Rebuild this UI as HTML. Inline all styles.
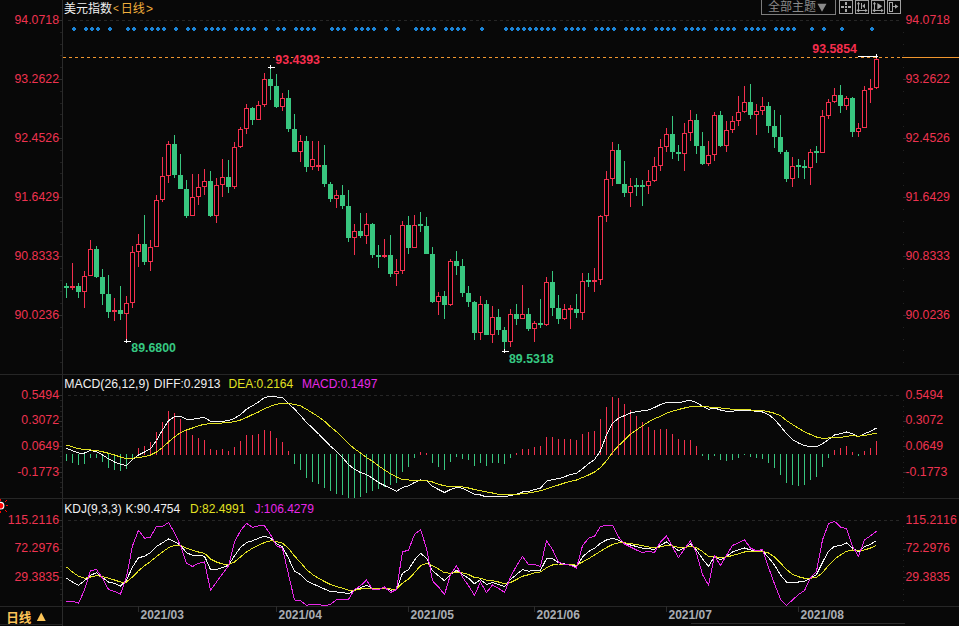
<!DOCTYPE html>
<html lang="zh"><head><meta charset="utf-8"><title>美元指数 日线</title>
<style>html,body{margin:0;padding:0;background:#080808;overflow:hidden}svg{display:block}text{font-family:'Liberation Sans','Noto Sans CJK SC',sans-serif;font-size:12px;font-kerning:none}</style>
</head><body>
<svg width="959" height="626" viewBox="0 0 959 626">
<rect width="959" height="626" fill="#080808"/>
<g shape-rendering="crispEdges">
<rect x="62" y="0" width="1" height="626" fill="#2b2b2b"/>
<rect x="0" y="374" width="959" height="1" fill="#262626"/>
<rect x="0" y="498" width="959" height="1" fill="#262626"/>
<rect x="0" y="606" width="959" height="1" fill="#262626"/>
<rect x="0" y="624" width="62" height="1" fill="#222222"/>
<rect x="691" y="623" width="214" height="1" fill="#2c2c2c"/>
<rect x="68" y="20" width="3" height="1" fill="#262626"/>
<rect x="74" y="20" width="3" height="1" fill="#262626"/>
<rect x="80" y="20" width="3" height="1" fill="#262626"/>
<rect x="86" y="20" width="3" height="1" fill="#262626"/>
<rect x="92" y="20" width="3" height="1" fill="#262626"/>
<rect x="98" y="20" width="3" height="1" fill="#262626"/>
<rect x="104" y="20" width="3" height="1" fill="#262626"/>
<rect x="110" y="20" width="3" height="1" fill="#262626"/>
<rect x="116" y="20" width="3" height="1" fill="#262626"/>
<rect x="122" y="20" width="3" height="1" fill="#262626"/>
<rect x="128" y="20" width="3" height="1" fill="#262626"/>
<rect x="134" y="20" width="3" height="1" fill="#262626"/>
<rect x="140" y="20" width="3" height="1" fill="#262626"/>
<rect x="146" y="20" width="3" height="1" fill="#262626"/>
<rect x="152" y="20" width="3" height="1" fill="#262626"/>
<rect x="158" y="20" width="3" height="1" fill="#262626"/>
<rect x="164" y="20" width="3" height="1" fill="#262626"/>
<rect x="170" y="20" width="3" height="1" fill="#262626"/>
<rect x="176" y="20" width="3" height="1" fill="#262626"/>
<rect x="182" y="20" width="3" height="1" fill="#262626"/>
<rect x="188" y="20" width="3" height="1" fill="#262626"/>
<rect x="194" y="20" width="3" height="1" fill="#262626"/>
<rect x="200" y="20" width="3" height="1" fill="#262626"/>
<rect x="206" y="20" width="3" height="1" fill="#262626"/>
<rect x="212" y="20" width="3" height="1" fill="#262626"/>
<rect x="218" y="20" width="3" height="1" fill="#262626"/>
<rect x="224" y="20" width="3" height="1" fill="#262626"/>
<rect x="230" y="20" width="3" height="1" fill="#262626"/>
<rect x="236" y="20" width="3" height="1" fill="#262626"/>
<rect x="242" y="20" width="3" height="1" fill="#262626"/>
<rect x="248" y="20" width="3" height="1" fill="#262626"/>
<rect x="254" y="20" width="3" height="1" fill="#262626"/>
<rect x="260" y="20" width="3" height="1" fill="#262626"/>
<rect x="266" y="20" width="3" height="1" fill="#262626"/>
<rect x="272" y="20" width="3" height="1" fill="#262626"/>
<rect x="278" y="20" width="3" height="1" fill="#262626"/>
<rect x="284" y="20" width="3" height="1" fill="#262626"/>
<rect x="290" y="20" width="3" height="1" fill="#262626"/>
<rect x="296" y="20" width="3" height="1" fill="#262626"/>
<rect x="302" y="20" width="3" height="1" fill="#262626"/>
<rect x="308" y="20" width="3" height="1" fill="#262626"/>
<rect x="314" y="20" width="3" height="1" fill="#262626"/>
<rect x="320" y="20" width="3" height="1" fill="#262626"/>
<rect x="326" y="20" width="3" height="1" fill="#262626"/>
<rect x="332" y="20" width="3" height="1" fill="#262626"/>
<rect x="338" y="20" width="3" height="1" fill="#262626"/>
<rect x="344" y="20" width="3" height="1" fill="#262626"/>
<rect x="350" y="20" width="3" height="1" fill="#262626"/>
<rect x="356" y="20" width="3" height="1" fill="#262626"/>
<rect x="362" y="20" width="3" height="1" fill="#262626"/>
<rect x="368" y="20" width="3" height="1" fill="#262626"/>
<rect x="374" y="20" width="3" height="1" fill="#262626"/>
<rect x="380" y="20" width="3" height="1" fill="#262626"/>
<rect x="386" y="20" width="3" height="1" fill="#262626"/>
<rect x="392" y="20" width="3" height="1" fill="#262626"/>
<rect x="398" y="20" width="3" height="1" fill="#262626"/>
<rect x="404" y="20" width="3" height="1" fill="#262626"/>
<rect x="410" y="20" width="3" height="1" fill="#262626"/>
<rect x="416" y="20" width="3" height="1" fill="#262626"/>
<rect x="422" y="20" width="3" height="1" fill="#262626"/>
<rect x="428" y="20" width="3" height="1" fill="#262626"/>
<rect x="434" y="20" width="3" height="1" fill="#262626"/>
<rect x="440" y="20" width="3" height="1" fill="#262626"/>
<rect x="446" y="20" width="3" height="1" fill="#262626"/>
<rect x="452" y="20" width="3" height="1" fill="#262626"/>
<rect x="458" y="20" width="3" height="1" fill="#262626"/>
<rect x="464" y="20" width="3" height="1" fill="#262626"/>
<rect x="470" y="20" width="3" height="1" fill="#262626"/>
<rect x="476" y="20" width="3" height="1" fill="#262626"/>
<rect x="482" y="20" width="3" height="1" fill="#262626"/>
<rect x="488" y="20" width="3" height="1" fill="#262626"/>
<rect x="494" y="20" width="3" height="1" fill="#262626"/>
<rect x="500" y="20" width="3" height="1" fill="#262626"/>
<rect x="506" y="20" width="3" height="1" fill="#262626"/>
<rect x="512" y="20" width="3" height="1" fill="#262626"/>
<rect x="518" y="20" width="3" height="1" fill="#262626"/>
<rect x="524" y="20" width="3" height="1" fill="#262626"/>
<rect x="530" y="20" width="3" height="1" fill="#262626"/>
<rect x="536" y="20" width="3" height="1" fill="#262626"/>
<rect x="542" y="20" width="3" height="1" fill="#262626"/>
<rect x="548" y="20" width="3" height="1" fill="#262626"/>
<rect x="554" y="20" width="3" height="1" fill="#262626"/>
<rect x="560" y="20" width="3" height="1" fill="#262626"/>
<rect x="566" y="20" width="3" height="1" fill="#262626"/>
<rect x="572" y="20" width="3" height="1" fill="#262626"/>
<rect x="578" y="20" width="3" height="1" fill="#262626"/>
<rect x="584" y="20" width="3" height="1" fill="#262626"/>
<rect x="590" y="20" width="3" height="1" fill="#262626"/>
<rect x="596" y="20" width="3" height="1" fill="#262626"/>
<rect x="602" y="20" width="3" height="1" fill="#262626"/>
<rect x="608" y="20" width="3" height="1" fill="#262626"/>
<rect x="614" y="20" width="3" height="1" fill="#262626"/>
<rect x="620" y="20" width="3" height="1" fill="#262626"/>
<rect x="626" y="20" width="3" height="1" fill="#262626"/>
<rect x="632" y="20" width="3" height="1" fill="#262626"/>
<rect x="638" y="20" width="3" height="1" fill="#262626"/>
<rect x="644" y="20" width="3" height="1" fill="#262626"/>
<rect x="650" y="20" width="3" height="1" fill="#262626"/>
<rect x="656" y="20" width="3" height="1" fill="#262626"/>
<rect x="662" y="20" width="3" height="1" fill="#262626"/>
<rect x="668" y="20" width="3" height="1" fill="#262626"/>
<rect x="674" y="20" width="3" height="1" fill="#262626"/>
<rect x="680" y="20" width="3" height="1" fill="#262626"/>
<rect x="686" y="20" width="3" height="1" fill="#262626"/>
<rect x="692" y="20" width="3" height="1" fill="#262626"/>
<rect x="698" y="20" width="3" height="1" fill="#262626"/>
<rect x="704" y="20" width="3" height="1" fill="#262626"/>
<rect x="710" y="20" width="3" height="1" fill="#262626"/>
<rect x="716" y="20" width="3" height="1" fill="#262626"/>
<rect x="722" y="20" width="3" height="1" fill="#262626"/>
<rect x="728" y="20" width="3" height="1" fill="#262626"/>
<rect x="734" y="20" width="3" height="1" fill="#262626"/>
<rect x="740" y="20" width="3" height="1" fill="#262626"/>
<rect x="746" y="20" width="3" height="1" fill="#262626"/>
<rect x="752" y="20" width="3" height="1" fill="#262626"/>
<rect x="758" y="20" width="3" height="1" fill="#262626"/>
<rect x="764" y="20" width="3" height="1" fill="#262626"/>
<rect x="770" y="20" width="3" height="1" fill="#262626"/>
<rect x="776" y="20" width="3" height="1" fill="#262626"/>
<rect x="782" y="20" width="3" height="1" fill="#262626"/>
<rect x="788" y="20" width="3" height="1" fill="#262626"/>
<rect x="794" y="20" width="3" height="1" fill="#262626"/>
<rect x="800" y="20" width="3" height="1" fill="#262626"/>
<rect x="806" y="20" width="3" height="1" fill="#262626"/>
<rect x="812" y="20" width="3" height="1" fill="#262626"/>
<rect x="818" y="20" width="3" height="1" fill="#262626"/>
<rect x="824" y="20" width="3" height="1" fill="#262626"/>
<rect x="830" y="20" width="3" height="1" fill="#262626"/>
<rect x="836" y="20" width="3" height="1" fill="#262626"/>
<rect x="842" y="20" width="3" height="1" fill="#262626"/>
<rect x="848" y="20" width="3" height="1" fill="#262626"/>
<rect x="854" y="20" width="3" height="1" fill="#262626"/>
<rect x="860" y="20" width="3" height="1" fill="#262626"/>
<rect x="866" y="20" width="3" height="1" fill="#262626"/>
<rect x="872" y="20" width="3" height="1" fill="#262626"/>
<rect x="878" y="20" width="3" height="1" fill="#262626"/>
<rect x="884" y="20" width="3" height="1" fill="#262626"/>
<rect x="890" y="20" width="3" height="1" fill="#262626"/>
<rect x="896" y="20" width="3" height="1" fill="#262626"/>
<rect x="68" y="395" width="3" height="1" fill="#262626"/>
<rect x="74" y="395" width="3" height="1" fill="#262626"/>
<rect x="80" y="395" width="3" height="1" fill="#262626"/>
<rect x="86" y="395" width="3" height="1" fill="#262626"/>
<rect x="92" y="395" width="3" height="1" fill="#262626"/>
<rect x="98" y="395" width="3" height="1" fill="#262626"/>
<rect x="104" y="395" width="3" height="1" fill="#262626"/>
<rect x="110" y="395" width="3" height="1" fill="#262626"/>
<rect x="116" y="395" width="3" height="1" fill="#262626"/>
<rect x="122" y="395" width="3" height="1" fill="#262626"/>
<rect x="128" y="395" width="3" height="1" fill="#262626"/>
<rect x="134" y="395" width="3" height="1" fill="#262626"/>
<rect x="140" y="395" width="3" height="1" fill="#262626"/>
<rect x="146" y="395" width="3" height="1" fill="#262626"/>
<rect x="152" y="395" width="3" height="1" fill="#262626"/>
<rect x="158" y="395" width="3" height="1" fill="#262626"/>
<rect x="164" y="395" width="3" height="1" fill="#262626"/>
<rect x="170" y="395" width="3" height="1" fill="#262626"/>
<rect x="176" y="395" width="3" height="1" fill="#262626"/>
<rect x="182" y="395" width="3" height="1" fill="#262626"/>
<rect x="188" y="395" width="3" height="1" fill="#262626"/>
<rect x="194" y="395" width="3" height="1" fill="#262626"/>
<rect x="200" y="395" width="3" height="1" fill="#262626"/>
<rect x="206" y="395" width="3" height="1" fill="#262626"/>
<rect x="212" y="395" width="3" height="1" fill="#262626"/>
<rect x="218" y="395" width="3" height="1" fill="#262626"/>
<rect x="224" y="395" width="3" height="1" fill="#262626"/>
<rect x="230" y="395" width="3" height="1" fill="#262626"/>
<rect x="236" y="395" width="3" height="1" fill="#262626"/>
<rect x="242" y="395" width="3" height="1" fill="#262626"/>
<rect x="248" y="395" width="3" height="1" fill="#262626"/>
<rect x="254" y="395" width="3" height="1" fill="#262626"/>
<rect x="260" y="395" width="3" height="1" fill="#262626"/>
<rect x="266" y="395" width="3" height="1" fill="#262626"/>
<rect x="272" y="395" width="3" height="1" fill="#262626"/>
<rect x="278" y="395" width="3" height="1" fill="#262626"/>
<rect x="284" y="395" width="3" height="1" fill="#262626"/>
<rect x="290" y="395" width="3" height="1" fill="#262626"/>
<rect x="296" y="395" width="3" height="1" fill="#262626"/>
<rect x="302" y="395" width="3" height="1" fill="#262626"/>
<rect x="308" y="395" width="3" height="1" fill="#262626"/>
<rect x="314" y="395" width="3" height="1" fill="#262626"/>
<rect x="320" y="395" width="3" height="1" fill="#262626"/>
<rect x="326" y="395" width="3" height="1" fill="#262626"/>
<rect x="332" y="395" width="3" height="1" fill="#262626"/>
<rect x="338" y="395" width="3" height="1" fill="#262626"/>
<rect x="344" y="395" width="3" height="1" fill="#262626"/>
<rect x="350" y="395" width="3" height="1" fill="#262626"/>
<rect x="356" y="395" width="3" height="1" fill="#262626"/>
<rect x="362" y="395" width="3" height="1" fill="#262626"/>
<rect x="368" y="395" width="3" height="1" fill="#262626"/>
<rect x="374" y="395" width="3" height="1" fill="#262626"/>
<rect x="380" y="395" width="3" height="1" fill="#262626"/>
<rect x="386" y="395" width="3" height="1" fill="#262626"/>
<rect x="392" y="395" width="3" height="1" fill="#262626"/>
<rect x="398" y="395" width="3" height="1" fill="#262626"/>
<rect x="404" y="395" width="3" height="1" fill="#262626"/>
<rect x="410" y="395" width="3" height="1" fill="#262626"/>
<rect x="416" y="395" width="3" height="1" fill="#262626"/>
<rect x="422" y="395" width="3" height="1" fill="#262626"/>
<rect x="428" y="395" width="3" height="1" fill="#262626"/>
<rect x="434" y="395" width="3" height="1" fill="#262626"/>
<rect x="440" y="395" width="3" height="1" fill="#262626"/>
<rect x="446" y="395" width="3" height="1" fill="#262626"/>
<rect x="452" y="395" width="3" height="1" fill="#262626"/>
<rect x="458" y="395" width="3" height="1" fill="#262626"/>
<rect x="464" y="395" width="3" height="1" fill="#262626"/>
<rect x="470" y="395" width="3" height="1" fill="#262626"/>
<rect x="476" y="395" width="3" height="1" fill="#262626"/>
<rect x="482" y="395" width="3" height="1" fill="#262626"/>
<rect x="488" y="395" width="3" height="1" fill="#262626"/>
<rect x="494" y="395" width="3" height="1" fill="#262626"/>
<rect x="500" y="395" width="3" height="1" fill="#262626"/>
<rect x="506" y="395" width="3" height="1" fill="#262626"/>
<rect x="512" y="395" width="3" height="1" fill="#262626"/>
<rect x="518" y="395" width="3" height="1" fill="#262626"/>
<rect x="524" y="395" width="3" height="1" fill="#262626"/>
<rect x="530" y="395" width="3" height="1" fill="#262626"/>
<rect x="536" y="395" width="3" height="1" fill="#262626"/>
<rect x="542" y="395" width="3" height="1" fill="#262626"/>
<rect x="548" y="395" width="3" height="1" fill="#262626"/>
<rect x="554" y="395" width="3" height="1" fill="#262626"/>
<rect x="560" y="395" width="3" height="1" fill="#262626"/>
<rect x="566" y="395" width="3" height="1" fill="#262626"/>
<rect x="572" y="395" width="3" height="1" fill="#262626"/>
<rect x="578" y="395" width="3" height="1" fill="#262626"/>
<rect x="584" y="395" width="3" height="1" fill="#262626"/>
<rect x="590" y="395" width="3" height="1" fill="#262626"/>
<rect x="596" y="395" width="3" height="1" fill="#262626"/>
<rect x="602" y="395" width="3" height="1" fill="#262626"/>
<rect x="608" y="395" width="3" height="1" fill="#262626"/>
<rect x="614" y="395" width="3" height="1" fill="#262626"/>
<rect x="620" y="395" width="3" height="1" fill="#262626"/>
<rect x="626" y="395" width="3" height="1" fill="#262626"/>
<rect x="632" y="395" width="3" height="1" fill="#262626"/>
<rect x="638" y="395" width="3" height="1" fill="#262626"/>
<rect x="644" y="395" width="3" height="1" fill="#262626"/>
<rect x="650" y="395" width="3" height="1" fill="#262626"/>
<rect x="656" y="395" width="3" height="1" fill="#262626"/>
<rect x="662" y="395" width="3" height="1" fill="#262626"/>
<rect x="668" y="395" width="3" height="1" fill="#262626"/>
<rect x="674" y="395" width="3" height="1" fill="#262626"/>
<rect x="680" y="395" width="3" height="1" fill="#262626"/>
<rect x="686" y="395" width="3" height="1" fill="#262626"/>
<rect x="692" y="395" width="3" height="1" fill="#262626"/>
<rect x="698" y="395" width="3" height="1" fill="#262626"/>
<rect x="704" y="395" width="3" height="1" fill="#262626"/>
<rect x="710" y="395" width="3" height="1" fill="#262626"/>
<rect x="716" y="395" width="3" height="1" fill="#262626"/>
<rect x="722" y="395" width="3" height="1" fill="#262626"/>
<rect x="728" y="395" width="3" height="1" fill="#262626"/>
<rect x="734" y="395" width="3" height="1" fill="#262626"/>
<rect x="740" y="395" width="3" height="1" fill="#262626"/>
<rect x="746" y="395" width="3" height="1" fill="#262626"/>
<rect x="752" y="395" width="3" height="1" fill="#262626"/>
<rect x="758" y="395" width="3" height="1" fill="#262626"/>
<rect x="764" y="395" width="3" height="1" fill="#262626"/>
<rect x="770" y="395" width="3" height="1" fill="#262626"/>
<rect x="776" y="395" width="3" height="1" fill="#262626"/>
<rect x="782" y="395" width="3" height="1" fill="#262626"/>
<rect x="788" y="395" width="3" height="1" fill="#262626"/>
<rect x="794" y="395" width="3" height="1" fill="#262626"/>
<rect x="800" y="395" width="3" height="1" fill="#262626"/>
<rect x="806" y="395" width="3" height="1" fill="#262626"/>
<rect x="812" y="395" width="3" height="1" fill="#262626"/>
<rect x="818" y="395" width="3" height="1" fill="#262626"/>
<rect x="824" y="395" width="3" height="1" fill="#262626"/>
<rect x="830" y="395" width="3" height="1" fill="#262626"/>
<rect x="836" y="395" width="3" height="1" fill="#262626"/>
<rect x="842" y="395" width="3" height="1" fill="#262626"/>
<rect x="848" y="395" width="3" height="1" fill="#262626"/>
<rect x="854" y="395" width="3" height="1" fill="#262626"/>
<rect x="860" y="395" width="3" height="1" fill="#262626"/>
<rect x="866" y="395" width="3" height="1" fill="#262626"/>
<rect x="872" y="395" width="3" height="1" fill="#262626"/>
<rect x="878" y="395" width="3" height="1" fill="#262626"/>
<rect x="884" y="395" width="3" height="1" fill="#262626"/>
<rect x="890" y="395" width="3" height="1" fill="#262626"/>
<rect x="896" y="395" width="3" height="1" fill="#262626"/>
<rect x="68" y="520" width="3" height="1" fill="#262626"/>
<rect x="74" y="520" width="3" height="1" fill="#262626"/>
<rect x="80" y="520" width="3" height="1" fill="#262626"/>
<rect x="86" y="520" width="3" height="1" fill="#262626"/>
<rect x="92" y="520" width="3" height="1" fill="#262626"/>
<rect x="98" y="520" width="3" height="1" fill="#262626"/>
<rect x="104" y="520" width="3" height="1" fill="#262626"/>
<rect x="110" y="520" width="3" height="1" fill="#262626"/>
<rect x="116" y="520" width="3" height="1" fill="#262626"/>
<rect x="122" y="520" width="3" height="1" fill="#262626"/>
<rect x="128" y="520" width="3" height="1" fill="#262626"/>
<rect x="134" y="520" width="3" height="1" fill="#262626"/>
<rect x="140" y="520" width="3" height="1" fill="#262626"/>
<rect x="146" y="520" width="3" height="1" fill="#262626"/>
<rect x="152" y="520" width="3" height="1" fill="#262626"/>
<rect x="158" y="520" width="3" height="1" fill="#262626"/>
<rect x="164" y="520" width="3" height="1" fill="#262626"/>
<rect x="170" y="520" width="3" height="1" fill="#262626"/>
<rect x="176" y="520" width="3" height="1" fill="#262626"/>
<rect x="182" y="520" width="3" height="1" fill="#262626"/>
<rect x="188" y="520" width="3" height="1" fill="#262626"/>
<rect x="194" y="520" width="3" height="1" fill="#262626"/>
<rect x="200" y="520" width="3" height="1" fill="#262626"/>
<rect x="206" y="520" width="3" height="1" fill="#262626"/>
<rect x="212" y="520" width="3" height="1" fill="#262626"/>
<rect x="218" y="520" width="3" height="1" fill="#262626"/>
<rect x="224" y="520" width="3" height="1" fill="#262626"/>
<rect x="230" y="520" width="3" height="1" fill="#262626"/>
<rect x="236" y="520" width="3" height="1" fill="#262626"/>
<rect x="242" y="520" width="3" height="1" fill="#262626"/>
<rect x="248" y="520" width="3" height="1" fill="#262626"/>
<rect x="254" y="520" width="3" height="1" fill="#262626"/>
<rect x="260" y="520" width="3" height="1" fill="#262626"/>
<rect x="266" y="520" width="3" height="1" fill="#262626"/>
<rect x="272" y="520" width="3" height="1" fill="#262626"/>
<rect x="278" y="520" width="3" height="1" fill="#262626"/>
<rect x="284" y="520" width="3" height="1" fill="#262626"/>
<rect x="290" y="520" width="3" height="1" fill="#262626"/>
<rect x="296" y="520" width="3" height="1" fill="#262626"/>
<rect x="302" y="520" width="3" height="1" fill="#262626"/>
<rect x="308" y="520" width="3" height="1" fill="#262626"/>
<rect x="314" y="520" width="3" height="1" fill="#262626"/>
<rect x="320" y="520" width="3" height="1" fill="#262626"/>
<rect x="326" y="520" width="3" height="1" fill="#262626"/>
<rect x="332" y="520" width="3" height="1" fill="#262626"/>
<rect x="338" y="520" width="3" height="1" fill="#262626"/>
<rect x="344" y="520" width="3" height="1" fill="#262626"/>
<rect x="350" y="520" width="3" height="1" fill="#262626"/>
<rect x="356" y="520" width="3" height="1" fill="#262626"/>
<rect x="362" y="520" width="3" height="1" fill="#262626"/>
<rect x="368" y="520" width="3" height="1" fill="#262626"/>
<rect x="374" y="520" width="3" height="1" fill="#262626"/>
<rect x="380" y="520" width="3" height="1" fill="#262626"/>
<rect x="386" y="520" width="3" height="1" fill="#262626"/>
<rect x="392" y="520" width="3" height="1" fill="#262626"/>
<rect x="398" y="520" width="3" height="1" fill="#262626"/>
<rect x="404" y="520" width="3" height="1" fill="#262626"/>
<rect x="410" y="520" width="3" height="1" fill="#262626"/>
<rect x="416" y="520" width="3" height="1" fill="#262626"/>
<rect x="422" y="520" width="3" height="1" fill="#262626"/>
<rect x="428" y="520" width="3" height="1" fill="#262626"/>
<rect x="434" y="520" width="3" height="1" fill="#262626"/>
<rect x="440" y="520" width="3" height="1" fill="#262626"/>
<rect x="446" y="520" width="3" height="1" fill="#262626"/>
<rect x="452" y="520" width="3" height="1" fill="#262626"/>
<rect x="458" y="520" width="3" height="1" fill="#262626"/>
<rect x="464" y="520" width="3" height="1" fill="#262626"/>
<rect x="470" y="520" width="3" height="1" fill="#262626"/>
<rect x="476" y="520" width="3" height="1" fill="#262626"/>
<rect x="482" y="520" width="3" height="1" fill="#262626"/>
<rect x="488" y="520" width="3" height="1" fill="#262626"/>
<rect x="494" y="520" width="3" height="1" fill="#262626"/>
<rect x="500" y="520" width="3" height="1" fill="#262626"/>
<rect x="506" y="520" width="3" height="1" fill="#262626"/>
<rect x="512" y="520" width="3" height="1" fill="#262626"/>
<rect x="518" y="520" width="3" height="1" fill="#262626"/>
<rect x="524" y="520" width="3" height="1" fill="#262626"/>
<rect x="530" y="520" width="3" height="1" fill="#262626"/>
<rect x="536" y="520" width="3" height="1" fill="#262626"/>
<rect x="542" y="520" width="3" height="1" fill="#262626"/>
<rect x="548" y="520" width="3" height="1" fill="#262626"/>
<rect x="554" y="520" width="3" height="1" fill="#262626"/>
<rect x="560" y="520" width="3" height="1" fill="#262626"/>
<rect x="566" y="520" width="3" height="1" fill="#262626"/>
<rect x="572" y="520" width="3" height="1" fill="#262626"/>
<rect x="578" y="520" width="3" height="1" fill="#262626"/>
<rect x="584" y="520" width="3" height="1" fill="#262626"/>
<rect x="590" y="520" width="3" height="1" fill="#262626"/>
<rect x="596" y="520" width="3" height="1" fill="#262626"/>
<rect x="602" y="520" width="3" height="1" fill="#262626"/>
<rect x="608" y="520" width="3" height="1" fill="#262626"/>
<rect x="614" y="520" width="3" height="1" fill="#262626"/>
<rect x="620" y="520" width="3" height="1" fill="#262626"/>
<rect x="626" y="520" width="3" height="1" fill="#262626"/>
<rect x="632" y="520" width="3" height="1" fill="#262626"/>
<rect x="638" y="520" width="3" height="1" fill="#262626"/>
<rect x="644" y="520" width="3" height="1" fill="#262626"/>
<rect x="650" y="520" width="3" height="1" fill="#262626"/>
<rect x="656" y="520" width="3" height="1" fill="#262626"/>
<rect x="662" y="520" width="3" height="1" fill="#262626"/>
<rect x="668" y="520" width="3" height="1" fill="#262626"/>
<rect x="674" y="520" width="3" height="1" fill="#262626"/>
<rect x="680" y="520" width="3" height="1" fill="#262626"/>
<rect x="686" y="520" width="3" height="1" fill="#262626"/>
<rect x="692" y="520" width="3" height="1" fill="#262626"/>
<rect x="698" y="520" width="3" height="1" fill="#262626"/>
<rect x="704" y="520" width="3" height="1" fill="#262626"/>
<rect x="710" y="520" width="3" height="1" fill="#262626"/>
<rect x="716" y="520" width="3" height="1" fill="#262626"/>
<rect x="722" y="520" width="3" height="1" fill="#262626"/>
<rect x="728" y="520" width="3" height="1" fill="#262626"/>
<rect x="734" y="520" width="3" height="1" fill="#262626"/>
<rect x="740" y="520" width="3" height="1" fill="#262626"/>
<rect x="746" y="520" width="3" height="1" fill="#262626"/>
<rect x="752" y="520" width="3" height="1" fill="#262626"/>
<rect x="758" y="520" width="3" height="1" fill="#262626"/>
<rect x="764" y="520" width="3" height="1" fill="#262626"/>
<rect x="770" y="520" width="3" height="1" fill="#262626"/>
<rect x="776" y="520" width="3" height="1" fill="#262626"/>
<rect x="782" y="520" width="3" height="1" fill="#262626"/>
<rect x="788" y="520" width="3" height="1" fill="#262626"/>
<rect x="794" y="520" width="3" height="1" fill="#262626"/>
<rect x="800" y="520" width="3" height="1" fill="#262626"/>
<rect x="806" y="520" width="3" height="1" fill="#262626"/>
<rect x="812" y="520" width="3" height="1" fill="#262626"/>
<rect x="818" y="520" width="3" height="1" fill="#262626"/>
<rect x="824" y="520" width="3" height="1" fill="#262626"/>
<rect x="830" y="520" width="3" height="1" fill="#262626"/>
<rect x="836" y="520" width="3" height="1" fill="#262626"/>
<rect x="842" y="520" width="3" height="1" fill="#262626"/>
<rect x="848" y="520" width="3" height="1" fill="#262626"/>
<rect x="854" y="520" width="3" height="1" fill="#262626"/>
<rect x="860" y="520" width="3" height="1" fill="#262626"/>
<rect x="866" y="520" width="3" height="1" fill="#262626"/>
<rect x="872" y="520" width="3" height="1" fill="#262626"/>
<rect x="878" y="520" width="3" height="1" fill="#262626"/>
<rect x="884" y="520" width="3" height="1" fill="#262626"/>
<rect x="890" y="520" width="3" height="1" fill="#262626"/>
<rect x="896" y="520" width="3" height="1" fill="#262626"/>
<rect x="58" y="20" width="4" height="1" fill="#2e2e2e"/>
<rect x="60" y="32" width="2" height="1" fill="#1f1f1f"/>
<rect x="903" y="32" width="1" height="1" fill="#222222"/>
<rect x="60" y="44" width="2" height="1" fill="#1f1f1f"/>
<rect x="903" y="44" width="1" height="1" fill="#222222"/>
<rect x="60" y="55" width="2" height="1" fill="#1f1f1f"/>
<rect x="903" y="55" width="1" height="1" fill="#222222"/>
<rect x="60" y="67" width="2" height="1" fill="#1f1f1f"/>
<rect x="903" y="67" width="1" height="1" fill="#222222"/>
<rect x="58" y="79" width="4" height="1" fill="#2e2e2e"/>
<rect x="903" y="79" width="3" height="1" fill="#2c2c2c"/>
<rect x="60" y="91" width="2" height="1" fill="#1f1f1f"/>
<rect x="903" y="91" width="1" height="1" fill="#222222"/>
<rect x="60" y="103" width="2" height="1" fill="#1f1f1f"/>
<rect x="903" y="103" width="1" height="1" fill="#222222"/>
<rect x="60" y="114" width="2" height="1" fill="#1f1f1f"/>
<rect x="903" y="114" width="1" height="1" fill="#222222"/>
<rect x="60" y="126" width="2" height="1" fill="#1f1f1f"/>
<rect x="903" y="126" width="1" height="1" fill="#222222"/>
<rect x="58" y="138" width="4" height="1" fill="#2e2e2e"/>
<rect x="903" y="138" width="3" height="1" fill="#2c2c2c"/>
<rect x="60" y="150" width="2" height="1" fill="#1f1f1f"/>
<rect x="903" y="150" width="1" height="1" fill="#222222"/>
<rect x="60" y="162" width="2" height="1" fill="#1f1f1f"/>
<rect x="903" y="162" width="1" height="1" fill="#222222"/>
<rect x="60" y="173" width="2" height="1" fill="#1f1f1f"/>
<rect x="903" y="173" width="1" height="1" fill="#222222"/>
<rect x="60" y="185" width="2" height="1" fill="#1f1f1f"/>
<rect x="903" y="185" width="1" height="1" fill="#222222"/>
<rect x="58" y="197" width="4" height="1" fill="#2e2e2e"/>
<rect x="903" y="197" width="3" height="1" fill="#2c2c2c"/>
<rect x="60" y="209" width="2" height="1" fill="#1f1f1f"/>
<rect x="903" y="209" width="1" height="1" fill="#222222"/>
<rect x="60" y="221" width="2" height="1" fill="#1f1f1f"/>
<rect x="903" y="221" width="1" height="1" fill="#222222"/>
<rect x="60" y="232" width="2" height="1" fill="#1f1f1f"/>
<rect x="903" y="232" width="1" height="1" fill="#222222"/>
<rect x="60" y="244" width="2" height="1" fill="#1f1f1f"/>
<rect x="903" y="244" width="1" height="1" fill="#222222"/>
<rect x="58" y="256" width="4" height="1" fill="#2e2e2e"/>
<rect x="903" y="256" width="3" height="1" fill="#2c2c2c"/>
<rect x="60" y="268" width="2" height="1" fill="#1f1f1f"/>
<rect x="903" y="268" width="1" height="1" fill="#222222"/>
<rect x="60" y="280" width="2" height="1" fill="#1f1f1f"/>
<rect x="903" y="280" width="1" height="1" fill="#222222"/>
<rect x="60" y="291" width="2" height="1" fill="#1f1f1f"/>
<rect x="903" y="291" width="1" height="1" fill="#222222"/>
<rect x="60" y="303" width="2" height="1" fill="#1f1f1f"/>
<rect x="903" y="303" width="1" height="1" fill="#222222"/>
<rect x="58" y="315" width="4" height="1" fill="#2e2e2e"/>
<rect x="903" y="315" width="3" height="1" fill="#2c2c2c"/>
<rect x="60" y="327" width="2" height="1" fill="#1f1f1f"/>
<rect x="903" y="327" width="1" height="1" fill="#222222"/>
<rect x="60" y="339" width="2" height="1" fill="#1f1f1f"/>
<rect x="903" y="339" width="1" height="1" fill="#222222"/>
<rect x="60" y="350" width="2" height="1" fill="#1f1f1f"/>
<rect x="903" y="350" width="1" height="1" fill="#222222"/>
<rect x="60" y="362" width="2" height="1" fill="#1f1f1f"/>
<rect x="903" y="362" width="1" height="1" fill="#222222"/>
<rect x="58" y="395" width="4" height="1" fill="#2e2e2e"/>
<rect x="60" y="400" width="2" height="1" fill="#1f1f1f"/>
<rect x="903" y="400" width="1" height="1" fill="#222222"/>
<rect x="60" y="406" width="2" height="1" fill="#1f1f1f"/>
<rect x="903" y="406" width="1" height="1" fill="#222222"/>
<rect x="60" y="411" width="2" height="1" fill="#1f1f1f"/>
<rect x="903" y="411" width="1" height="1" fill="#222222"/>
<rect x="60" y="416" width="2" height="1" fill="#1f1f1f"/>
<rect x="903" y="416" width="1" height="1" fill="#222222"/>
<rect x="58" y="421" width="4" height="1" fill="#2e2e2e"/>
<rect x="903" y="421" width="3" height="1" fill="#2c2c2c"/>
<rect x="60" y="426" width="2" height="1" fill="#1f1f1f"/>
<rect x="903" y="426" width="1" height="1" fill="#222222"/>
<rect x="60" y="431" width="2" height="1" fill="#1f1f1f"/>
<rect x="903" y="431" width="1" height="1" fill="#222222"/>
<rect x="60" y="436" width="2" height="1" fill="#1f1f1f"/>
<rect x="903" y="436" width="1" height="1" fill="#222222"/>
<rect x="60" y="441" width="2" height="1" fill="#1f1f1f"/>
<rect x="903" y="441" width="1" height="1" fill="#222222"/>
<rect x="58" y="446" width="4" height="1" fill="#2e2e2e"/>
<rect x="903" y="446" width="3" height="1" fill="#2c2c2c"/>
<rect x="60" y="451" width="2" height="1" fill="#1f1f1f"/>
<rect x="903" y="451" width="1" height="1" fill="#222222"/>
<rect x="60" y="456" width="2" height="1" fill="#1f1f1f"/>
<rect x="903" y="456" width="1" height="1" fill="#222222"/>
<rect x="60" y="462" width="2" height="1" fill="#1f1f1f"/>
<rect x="903" y="462" width="1" height="1" fill="#222222"/>
<rect x="60" y="467" width="2" height="1" fill="#1f1f1f"/>
<rect x="903" y="467" width="1" height="1" fill="#222222"/>
<rect x="58" y="472" width="4" height="1" fill="#2e2e2e"/>
<rect x="903" y="472" width="3" height="1" fill="#2c2c2c"/>
<rect x="60" y="477" width="2" height="1" fill="#1f1f1f"/>
<rect x="903" y="477" width="1" height="1" fill="#222222"/>
<rect x="60" y="482" width="2" height="1" fill="#1f1f1f"/>
<rect x="903" y="482" width="1" height="1" fill="#222222"/>
<rect x="60" y="487" width="2" height="1" fill="#1f1f1f"/>
<rect x="903" y="487" width="1" height="1" fill="#222222"/>
<rect x="60" y="492" width="2" height="1" fill="#1f1f1f"/>
<rect x="903" y="492" width="1" height="1" fill="#222222"/>
<rect x="58" y="520" width="4" height="1" fill="#2e2e2e"/>
<rect x="60" y="526" width="2" height="1" fill="#1f1f1f"/>
<rect x="903" y="526" width="1" height="1" fill="#222222"/>
<rect x="60" y="531" width="2" height="1" fill="#1f1f1f"/>
<rect x="903" y="531" width="1" height="1" fill="#222222"/>
<rect x="60" y="537" width="2" height="1" fill="#1f1f1f"/>
<rect x="903" y="537" width="1" height="1" fill="#222222"/>
<rect x="60" y="543" width="2" height="1" fill="#1f1f1f"/>
<rect x="903" y="543" width="1" height="1" fill="#222222"/>
<rect x="58" y="549" width="4" height="1" fill="#2e2e2e"/>
<rect x="903" y="549" width="3" height="1" fill="#2c2c2c"/>
<rect x="60" y="554" width="2" height="1" fill="#1f1f1f"/>
<rect x="903" y="554" width="1" height="1" fill="#222222"/>
<rect x="60" y="560" width="2" height="1" fill="#1f1f1f"/>
<rect x="903" y="560" width="1" height="1" fill="#222222"/>
<rect x="60" y="566" width="2" height="1" fill="#1f1f1f"/>
<rect x="903" y="566" width="1" height="1" fill="#222222"/>
<rect x="60" y="571" width="2" height="1" fill="#1f1f1f"/>
<rect x="903" y="571" width="1" height="1" fill="#222222"/>
<rect x="58" y="577" width="4" height="1" fill="#2e2e2e"/>
<rect x="903" y="577" width="3" height="1" fill="#2c2c2c"/>
<rect x="60" y="583" width="2" height="1" fill="#1f1f1f"/>
<rect x="903" y="583" width="1" height="1" fill="#222222"/>
<rect x="60" y="589" width="2" height="1" fill="#1f1f1f"/>
<rect x="903" y="589" width="1" height="1" fill="#222222"/>
<rect x="60" y="594" width="2" height="1" fill="#1f1f1f"/>
<rect x="903" y="594" width="1" height="1" fill="#222222"/>
<rect x="60" y="600" width="2" height="1" fill="#1f1f1f"/>
<rect x="903" y="600" width="1" height="1" fill="#222222"/>
<rect x="138" y="606" width="1" height="6" fill="#2c2c2c"/>
<rect x="276" y="606" width="1" height="6" fill="#2c2c2c"/>
<rect x="408" y="606" width="1" height="6" fill="#2c2c2c"/>
<rect x="534" y="606" width="1" height="6" fill="#2c2c2c"/>
<rect x="666" y="606" width="1" height="6" fill="#2c2c2c"/>
<rect x="798" y="606" width="1" height="6" fill="#2c2c2c"/>
<rect x="63" y="57" width="3" height="1" fill="#f0962e"/>
<rect x="69" y="57" width="3" height="1" fill="#f0962e"/>
<rect x="75" y="57" width="3" height="1" fill="#f0962e"/>
<rect x="81" y="57" width="3" height="1" fill="#f0962e"/>
<rect x="87" y="57" width="3" height="1" fill="#f0962e"/>
<rect x="93" y="57" width="3" height="1" fill="#f0962e"/>
<rect x="99" y="57" width="3" height="1" fill="#f0962e"/>
<rect x="105" y="57" width="3" height="1" fill="#f0962e"/>
<rect x="111" y="57" width="3" height="1" fill="#f0962e"/>
<rect x="117" y="57" width="3" height="1" fill="#f0962e"/>
<rect x="123" y="57" width="3" height="1" fill="#f0962e"/>
<rect x="129" y="57" width="3" height="1" fill="#f0962e"/>
<rect x="135" y="57" width="3" height="1" fill="#f0962e"/>
<rect x="141" y="57" width="3" height="1" fill="#f0962e"/>
<rect x="147" y="57" width="3" height="1" fill="#f0962e"/>
<rect x="153" y="57" width="3" height="1" fill="#f0962e"/>
<rect x="159" y="57" width="3" height="1" fill="#f0962e"/>
<rect x="165" y="57" width="3" height="1" fill="#f0962e"/>
<rect x="171" y="57" width="3" height="1" fill="#f0962e"/>
<rect x="177" y="57" width="3" height="1" fill="#f0962e"/>
<rect x="183" y="57" width="3" height="1" fill="#f0962e"/>
<rect x="189" y="57" width="3" height="1" fill="#f0962e"/>
<rect x="195" y="57" width="3" height="1" fill="#f0962e"/>
<rect x="201" y="57" width="3" height="1" fill="#f0962e"/>
<rect x="207" y="57" width="3" height="1" fill="#f0962e"/>
<rect x="213" y="57" width="3" height="1" fill="#f0962e"/>
<rect x="219" y="57" width="3" height="1" fill="#f0962e"/>
<rect x="225" y="57" width="3" height="1" fill="#f0962e"/>
<rect x="231" y="57" width="3" height="1" fill="#f0962e"/>
<rect x="237" y="57" width="3" height="1" fill="#f0962e"/>
<rect x="243" y="57" width="3" height="1" fill="#f0962e"/>
<rect x="249" y="57" width="3" height="1" fill="#f0962e"/>
<rect x="255" y="57" width="3" height="1" fill="#f0962e"/>
<rect x="261" y="57" width="3" height="1" fill="#f0962e"/>
<rect x="267" y="57" width="3" height="1" fill="#f0962e"/>
<rect x="273" y="57" width="3" height="1" fill="#f0962e"/>
<rect x="279" y="57" width="3" height="1" fill="#f0962e"/>
<rect x="285" y="57" width="3" height="1" fill="#f0962e"/>
<rect x="291" y="57" width="3" height="1" fill="#f0962e"/>
<rect x="297" y="57" width="3" height="1" fill="#f0962e"/>
<rect x="303" y="57" width="3" height="1" fill="#f0962e"/>
<rect x="309" y="57" width="3" height="1" fill="#f0962e"/>
<rect x="315" y="57" width="3" height="1" fill="#f0962e"/>
<rect x="321" y="57" width="3" height="1" fill="#f0962e"/>
<rect x="327" y="57" width="3" height="1" fill="#f0962e"/>
<rect x="333" y="57" width="3" height="1" fill="#f0962e"/>
<rect x="339" y="57" width="3" height="1" fill="#f0962e"/>
<rect x="345" y="57" width="3" height="1" fill="#f0962e"/>
<rect x="351" y="57" width="3" height="1" fill="#f0962e"/>
<rect x="357" y="57" width="3" height="1" fill="#f0962e"/>
<rect x="363" y="57" width="3" height="1" fill="#f0962e"/>
<rect x="369" y="57" width="3" height="1" fill="#f0962e"/>
<rect x="375" y="57" width="3" height="1" fill="#f0962e"/>
<rect x="381" y="57" width="3" height="1" fill="#f0962e"/>
<rect x="387" y="57" width="3" height="1" fill="#f0962e"/>
<rect x="393" y="57" width="3" height="1" fill="#f0962e"/>
<rect x="399" y="57" width="3" height="1" fill="#f0962e"/>
<rect x="405" y="57" width="3" height="1" fill="#f0962e"/>
<rect x="411" y="57" width="3" height="1" fill="#f0962e"/>
<rect x="417" y="57" width="3" height="1" fill="#f0962e"/>
<rect x="423" y="57" width="3" height="1" fill="#f0962e"/>
<rect x="429" y="57" width="3" height="1" fill="#f0962e"/>
<rect x="435" y="57" width="3" height="1" fill="#f0962e"/>
<rect x="441" y="57" width="3" height="1" fill="#f0962e"/>
<rect x="447" y="57" width="3" height="1" fill="#f0962e"/>
<rect x="453" y="57" width="3" height="1" fill="#f0962e"/>
<rect x="459" y="57" width="3" height="1" fill="#f0962e"/>
<rect x="465" y="57" width="3" height="1" fill="#f0962e"/>
<rect x="471" y="57" width="3" height="1" fill="#f0962e"/>
<rect x="477" y="57" width="3" height="1" fill="#f0962e"/>
<rect x="483" y="57" width="3" height="1" fill="#f0962e"/>
<rect x="489" y="57" width="3" height="1" fill="#f0962e"/>
<rect x="495" y="57" width="3" height="1" fill="#f0962e"/>
<rect x="501" y="57" width="3" height="1" fill="#f0962e"/>
<rect x="507" y="57" width="3" height="1" fill="#f0962e"/>
<rect x="513" y="57" width="3" height="1" fill="#f0962e"/>
<rect x="519" y="57" width="3" height="1" fill="#f0962e"/>
<rect x="525" y="57" width="3" height="1" fill="#f0962e"/>
<rect x="531" y="57" width="3" height="1" fill="#f0962e"/>
<rect x="537" y="57" width="3" height="1" fill="#f0962e"/>
<rect x="543" y="57" width="3" height="1" fill="#f0962e"/>
<rect x="549" y="57" width="3" height="1" fill="#f0962e"/>
<rect x="555" y="57" width="3" height="1" fill="#f0962e"/>
<rect x="561" y="57" width="3" height="1" fill="#f0962e"/>
<rect x="567" y="57" width="3" height="1" fill="#f0962e"/>
<rect x="573" y="57" width="3" height="1" fill="#f0962e"/>
<rect x="579" y="57" width="3" height="1" fill="#f0962e"/>
<rect x="585" y="57" width="3" height="1" fill="#f0962e"/>
<rect x="591" y="57" width="3" height="1" fill="#f0962e"/>
<rect x="597" y="57" width="3" height="1" fill="#f0962e"/>
<rect x="603" y="57" width="3" height="1" fill="#f0962e"/>
<rect x="609" y="57" width="3" height="1" fill="#f0962e"/>
<rect x="615" y="57" width="3" height="1" fill="#f0962e"/>
<rect x="621" y="57" width="3" height="1" fill="#f0962e"/>
<rect x="627" y="57" width="3" height="1" fill="#f0962e"/>
<rect x="633" y="57" width="3" height="1" fill="#f0962e"/>
<rect x="639" y="57" width="3" height="1" fill="#f0962e"/>
<rect x="645" y="57" width="3" height="1" fill="#f0962e"/>
<rect x="651" y="57" width="3" height="1" fill="#f0962e"/>
<rect x="657" y="57" width="3" height="1" fill="#f0962e"/>
<rect x="663" y="57" width="3" height="1" fill="#f0962e"/>
<rect x="669" y="57" width="3" height="1" fill="#f0962e"/>
<rect x="675" y="57" width="3" height="1" fill="#f0962e"/>
<rect x="681" y="57" width="3" height="1" fill="#f0962e"/>
<rect x="687" y="57" width="3" height="1" fill="#f0962e"/>
<rect x="693" y="57" width="3" height="1" fill="#f0962e"/>
<rect x="699" y="57" width="3" height="1" fill="#f0962e"/>
<rect x="705" y="57" width="3" height="1" fill="#f0962e"/>
<rect x="711" y="57" width="3" height="1" fill="#f0962e"/>
<rect x="717" y="57" width="3" height="1" fill="#f0962e"/>
<rect x="723" y="57" width="3" height="1" fill="#f0962e"/>
<rect x="729" y="57" width="3" height="1" fill="#f0962e"/>
<rect x="735" y="57" width="3" height="1" fill="#f0962e"/>
<rect x="741" y="57" width="3" height="1" fill="#f0962e"/>
<rect x="747" y="57" width="3" height="1" fill="#f0962e"/>
<rect x="753" y="57" width="3" height="1" fill="#f0962e"/>
<rect x="759" y="57" width="3" height="1" fill="#f0962e"/>
<rect x="765" y="57" width="3" height="1" fill="#f0962e"/>
<rect x="771" y="57" width="3" height="1" fill="#f0962e"/>
<rect x="777" y="57" width="3" height="1" fill="#f0962e"/>
<rect x="783" y="57" width="3" height="1" fill="#f0962e"/>
<rect x="789" y="57" width="3" height="1" fill="#f0962e"/>
<rect x="795" y="57" width="3" height="1" fill="#f0962e"/>
<rect x="801" y="57" width="3" height="1" fill="#f0962e"/>
<rect x="807" y="57" width="3" height="1" fill="#f0962e"/>
<rect x="813" y="57" width="3" height="1" fill="#f0962e"/>
<rect x="819" y="57" width="3" height="1" fill="#f0962e"/>
<rect x="825" y="57" width="3" height="1" fill="#f0962e"/>
<rect x="831" y="57" width="3" height="1" fill="#f0962e"/>
<rect x="837" y="57" width="3" height="1" fill="#f0962e"/>
<rect x="843" y="57" width="3" height="1" fill="#f0962e"/>
<rect x="849" y="57" width="3" height="1" fill="#f0962e"/>
<rect x="855" y="57" width="3" height="1" fill="#f0962e"/>
<rect x="861" y="57" width="3" height="1" fill="#f0962e"/>
<rect x="867" y="57" width="3" height="1" fill="#f0962e"/>
<rect x="873" y="57" width="3" height="1" fill="#f0962e"/>
<rect x="879" y="57" width="3" height="1" fill="#f0962e"/>
<rect x="885" y="57" width="3" height="1" fill="#f0962e"/>
<rect x="891" y="57" width="3" height="1" fill="#f0962e"/>
<rect x="897" y="57" width="3" height="1" fill="#f0962e"/>
<rect x="902" y="57" width="57" height="1" fill="#f0962e"/>
</g>
<g fill="#1c85d8" shape-rendering="crispEdges">
<rect x="73" y="27" width="2" height="4"/><rect x="72" y="28" width="4" height="2"/>
<rect x="85" y="27" width="2" height="4"/><rect x="84" y="28" width="4" height="2"/>
<rect x="91" y="27" width="2" height="4"/><rect x="90" y="28" width="4" height="2"/>
<rect x="97" y="27" width="2" height="4"/><rect x="96" y="28" width="4" height="2"/>
<rect x="109" y="27" width="2" height="4"/><rect x="108" y="28" width="4" height="2"/>
<rect x="127" y="27" width="2" height="4"/><rect x="126" y="28" width="4" height="2"/>
<rect x="133" y="27" width="2" height="4"/><rect x="132" y="28" width="4" height="2"/>
<rect x="145" y="27" width="2" height="4"/><rect x="144" y="28" width="4" height="2"/>
<rect x="151" y="27" width="2" height="4"/><rect x="150" y="28" width="4" height="2"/>
<rect x="157" y="27" width="2" height="4"/><rect x="156" y="28" width="4" height="2"/>
<rect x="163" y="27" width="2" height="4"/><rect x="162" y="28" width="4" height="2"/>
<rect x="175" y="27" width="2" height="4"/><rect x="174" y="28" width="4" height="2"/>
<rect x="187" y="27" width="2" height="4"/><rect x="186" y="28" width="4" height="2"/>
<rect x="193" y="27" width="2" height="4"/><rect x="192" y="28" width="4" height="2"/>
<rect x="205" y="27" width="2" height="4"/><rect x="204" y="28" width="4" height="2"/>
<rect x="211" y="27" width="2" height="4"/><rect x="210" y="28" width="4" height="2"/>
<rect x="217" y="27" width="2" height="4"/><rect x="216" y="28" width="4" height="2"/>
<rect x="223" y="27" width="2" height="4"/><rect x="222" y="28" width="4" height="2"/>
<rect x="235" y="27" width="2" height="4"/><rect x="234" y="28" width="4" height="2"/>
<rect x="241" y="27" width="2" height="4"/><rect x="240" y="28" width="4" height="2"/>
<rect x="247" y="27" width="2" height="4"/><rect x="246" y="28" width="4" height="2"/>
<rect x="253" y="27" width="2" height="4"/><rect x="252" y="28" width="4" height="2"/>
<rect x="265" y="27" width="2" height="4"/><rect x="264" y="28" width="4" height="2"/>
<rect x="277" y="27" width="2" height="4"/><rect x="276" y="28" width="4" height="2"/>
<rect x="283" y="27" width="2" height="4"/><rect x="282" y="28" width="4" height="2"/>
<rect x="295" y="27" width="2" height="4"/><rect x="294" y="28" width="4" height="2"/>
<rect x="301" y="27" width="2" height="4"/><rect x="300" y="28" width="4" height="2"/>
<rect x="307" y="27" width="2" height="4"/><rect x="306" y="28" width="4" height="2"/>
<rect x="313" y="27" width="2" height="4"/><rect x="312" y="28" width="4" height="2"/>
<rect x="331" y="27" width="2" height="4"/><rect x="330" y="28" width="4" height="2"/>
<rect x="337" y="27" width="2" height="4"/><rect x="336" y="28" width="4" height="2"/>
<rect x="343" y="27" width="2" height="4"/><rect x="342" y="28" width="4" height="2"/>
<rect x="355" y="27" width="2" height="4"/><rect x="354" y="28" width="4" height="2"/>
<rect x="361" y="27" width="2" height="4"/><rect x="360" y="28" width="4" height="2"/>
<rect x="367" y="27" width="2" height="4"/><rect x="366" y="28" width="4" height="2"/>
<rect x="373" y="27" width="2" height="4"/><rect x="372" y="28" width="4" height="2"/>
<rect x="385" y="27" width="2" height="4"/><rect x="384" y="28" width="4" height="2"/>
<rect x="397" y="27" width="2" height="4"/><rect x="396" y="28" width="4" height="2"/>
<rect x="415" y="27" width="2" height="4"/><rect x="414" y="28" width="4" height="2"/>
<rect x="421" y="27" width="2" height="4"/><rect x="420" y="28" width="4" height="2"/>
<rect x="427" y="27" width="2" height="4"/><rect x="426" y="28" width="4" height="2"/>
<rect x="433" y="27" width="2" height="4"/><rect x="432" y="28" width="4" height="2"/>
<rect x="445" y="27" width="2" height="4"/><rect x="444" y="28" width="4" height="2"/>
<rect x="451" y="27" width="2" height="4"/><rect x="450" y="28" width="4" height="2"/>
<rect x="457" y="27" width="2" height="4"/><rect x="456" y="28" width="4" height="2"/>
<rect x="463" y="27" width="2" height="4"/><rect x="462" y="28" width="4" height="2"/>
<rect x="481" y="27" width="2" height="4"/><rect x="480" y="28" width="4" height="2"/>
<rect x="505" y="27" width="2" height="4"/><rect x="504" y="28" width="4" height="2"/>
<rect x="511" y="27" width="2" height="4"/><rect x="510" y="28" width="4" height="2"/>
<rect x="517" y="27" width="2" height="4"/><rect x="516" y="28" width="4" height="2"/>
<rect x="523" y="27" width="2" height="4"/><rect x="522" y="28" width="4" height="2"/>
<rect x="529" y="27" width="2" height="4"/><rect x="528" y="28" width="4" height="2"/>
<rect x="535" y="27" width="2" height="4"/><rect x="534" y="28" width="4" height="2"/>
<rect x="541" y="27" width="2" height="4"/><rect x="540" y="28" width="4" height="2"/>
<rect x="547" y="27" width="2" height="4"/><rect x="546" y="28" width="4" height="2"/>
<rect x="553" y="27" width="2" height="4"/><rect x="552" y="28" width="4" height="2"/>
<rect x="565" y="27" width="2" height="4"/><rect x="564" y="28" width="4" height="2"/>
<rect x="571" y="27" width="2" height="4"/><rect x="570" y="28" width="4" height="2"/>
<rect x="577" y="27" width="2" height="4"/><rect x="576" y="28" width="4" height="2"/>
<rect x="583" y="27" width="2" height="4"/><rect x="582" y="28" width="4" height="2"/>
<rect x="595" y="27" width="2" height="4"/><rect x="594" y="28" width="4" height="2"/>
<rect x="601" y="27" width="2" height="4"/><rect x="600" y="28" width="4" height="2"/>
<rect x="607" y="27" width="2" height="4"/><rect x="606" y="28" width="4" height="2"/>
<rect x="613" y="27" width="2" height="4"/><rect x="612" y="28" width="4" height="2"/>
<rect x="625" y="27" width="2" height="4"/><rect x="624" y="28" width="4" height="2"/>
<rect x="631" y="27" width="2" height="4"/><rect x="630" y="28" width="4" height="2"/>
<rect x="637" y="27" width="2" height="4"/><rect x="636" y="28" width="4" height="2"/>
<rect x="643" y="27" width="2" height="4"/><rect x="642" y="28" width="4" height="2"/>
<rect x="655" y="27" width="2" height="4"/><rect x="654" y="28" width="4" height="2"/>
<rect x="661" y="27" width="2" height="4"/><rect x="660" y="28" width="4" height="2"/>
<rect x="667" y="27" width="2" height="4"/><rect x="666" y="28" width="4" height="2"/>
<rect x="673" y="27" width="2" height="4"/><rect x="672" y="28" width="4" height="2"/>
<rect x="685" y="27" width="2" height="4"/><rect x="684" y="28" width="4" height="2"/>
<rect x="691" y="27" width="2" height="4"/><rect x="690" y="28" width="4" height="2"/>
<rect x="697" y="27" width="2" height="4"/><rect x="696" y="28" width="4" height="2"/>
<rect x="703" y="27" width="2" height="4"/><rect x="702" y="28" width="4" height="2"/>
<rect x="715" y="27" width="2" height="4"/><rect x="714" y="28" width="4" height="2"/>
<rect x="721" y="27" width="2" height="4"/><rect x="720" y="28" width="4" height="2"/>
<rect x="727" y="27" width="2" height="4"/><rect x="726" y="28" width="4" height="2"/>
<rect x="733" y="27" width="2" height="4"/><rect x="732" y="28" width="4" height="2"/>
<rect x="745" y="27" width="2" height="4"/><rect x="744" y="28" width="4" height="2"/>
<rect x="751" y="27" width="2" height="4"/><rect x="750" y="28" width="4" height="2"/>
<rect x="757" y="27" width="2" height="4"/><rect x="756" y="28" width="4" height="2"/>
<rect x="763" y="27" width="2" height="4"/><rect x="762" y="28" width="4" height="2"/>
<rect x="775" y="27" width="2" height="4"/><rect x="774" y="28" width="4" height="2"/>
<rect x="781" y="27" width="2" height="4"/><rect x="780" y="28" width="4" height="2"/>
<rect x="787" y="27" width="2" height="4"/><rect x="786" y="28" width="4" height="2"/>
<rect x="793" y="27" width="2" height="4"/><rect x="792" y="28" width="4" height="2"/>
<rect x="811" y="27" width="2" height="4"/><rect x="810" y="28" width="4" height="2"/>
<rect x="823" y="27" width="2" height="4"/><rect x="822" y="28" width="4" height="2"/>
<rect x="841" y="27" width="2" height="4"/><rect x="840" y="28" width="4" height="2"/>
<rect x="871" y="27" width="2" height="4"/><rect x="870" y="28" width="4" height="2"/>
</g>
<g shape-rendering="crispEdges">
<rect x="66" y="283" width="1" height="15" fill="#38c67f"/>
<rect x="64" y="286" width="5" height="2" fill="#38c67f"/>
<rect x="72" y="263" width="1" height="27" fill="#f2304e"/>
<rect x="70" y="286" width="5" height="2" fill="#f2304e"/>
<rect x="78" y="283" width="1" height="15" fill="#38c67f"/>
<rect x="76" y="286" width="5" height="6" fill="#38c67f"/>
<rect x="84" y="271" width="1" height="37" fill="#f2304e"/>
<rect x="82" y="276" width="5" height="16" fill="#f2304e"/>
<rect x="83" y="277" width="3" height="14" fill="#000"/>
<rect x="90" y="240" width="1" height="35" fill="#f2304e"/>
<rect x="88" y="249" width="5" height="27" fill="#f2304e"/>
<rect x="89" y="250" width="3" height="25" fill="#000"/>
<rect x="96" y="246" width="1" height="32" fill="#38c67f"/>
<rect x="94" y="249" width="5" height="28" fill="#38c67f"/>
<rect x="102" y="269" width="1" height="36" fill="#38c67f"/>
<rect x="100" y="277" width="5" height="17" fill="#38c67f"/>
<rect x="108" y="275" width="1" height="43" fill="#38c67f"/>
<rect x="106" y="294" width="5" height="18" fill="#38c67f"/>
<rect x="114" y="298" width="1" height="23" fill="#f2304e"/>
<rect x="112" y="310" width="5" height="2" fill="#f2304e"/>
<rect x="120" y="286" width="1" height="34" fill="#38c67f"/>
<rect x="118" y="310" width="5" height="4" fill="#38c67f"/>
<rect x="126" y="296" width="1" height="46" fill="#f2304e"/>
<rect x="124" y="303" width="5" height="11" fill="#f2304e"/>
<rect x="125" y="304" width="3" height="9" fill="#000"/>
<rect x="132" y="246" width="1" height="62" fill="#f2304e"/>
<rect x="130" y="252" width="5" height="51" fill="#f2304e"/>
<rect x="131" y="253" width="3" height="49" fill="#000"/>
<rect x="138" y="234" width="1" height="33" fill="#f2304e"/>
<rect x="136" y="244" width="5" height="8" fill="#f2304e"/>
<rect x="137" y="245" width="3" height="6" fill="#000"/>
<rect x="144" y="215" width="1" height="50" fill="#38c67f"/>
<rect x="142" y="244" width="5" height="18" fill="#38c67f"/>
<rect x="150" y="240" width="1" height="31" fill="#f2304e"/>
<rect x="148" y="247" width="5" height="15" fill="#f2304e"/>
<rect x="149" y="248" width="3" height="13" fill="#000"/>
<rect x="156" y="195" width="1" height="52" fill="#f2304e"/>
<rect x="154" y="200" width="5" height="47" fill="#f2304e"/>
<rect x="155" y="201" width="3" height="45" fill="#000"/>
<rect x="162" y="157" width="1" height="45" fill="#f2304e"/>
<rect x="160" y="176" width="5" height="24" fill="#f2304e"/>
<rect x="161" y="177" width="3" height="22" fill="#000"/>
<rect x="168" y="141" width="1" height="42" fill="#f2304e"/>
<rect x="166" y="144" width="5" height="32" fill="#f2304e"/>
<rect x="167" y="145" width="3" height="30" fill="#000"/>
<rect x="174" y="135" width="1" height="43" fill="#38c67f"/>
<rect x="172" y="144" width="5" height="31" fill="#38c67f"/>
<rect x="180" y="154" width="1" height="35" fill="#38c67f"/>
<rect x="178" y="175" width="5" height="14" fill="#38c67f"/>
<rect x="186" y="180" width="1" height="38" fill="#38c67f"/>
<rect x="184" y="189" width="5" height="27" fill="#38c67f"/>
<rect x="192" y="174" width="1" height="42" fill="#f2304e"/>
<rect x="190" y="197" width="5" height="19" fill="#f2304e"/>
<rect x="191" y="198" width="3" height="17" fill="#000"/>
<rect x="198" y="174" width="1" height="31" fill="#f2304e"/>
<rect x="196" y="187" width="5" height="10" fill="#f2304e"/>
<rect x="197" y="188" width="3" height="8" fill="#000"/>
<rect x="204" y="169" width="1" height="26" fill="#f2304e"/>
<rect x="202" y="181" width="5" height="6" fill="#f2304e"/>
<rect x="203" y="182" width="3" height="4" fill="#000"/>
<rect x="210" y="171" width="1" height="46" fill="#38c67f"/>
<rect x="208" y="181" width="5" height="35" fill="#38c67f"/>
<rect x="216" y="178" width="1" height="45" fill="#f2304e"/>
<rect x="214" y="185" width="5" height="31" fill="#f2304e"/>
<rect x="215" y="186" width="3" height="29" fill="#000"/>
<rect x="222" y="159" width="1" height="38" fill="#f2304e"/>
<rect x="220" y="177" width="5" height="8" fill="#f2304e"/>
<rect x="221" y="178" width="3" height="6" fill="#000"/>
<rect x="228" y="160" width="1" height="33" fill="#38c67f"/>
<rect x="226" y="177" width="5" height="10" fill="#38c67f"/>
<rect x="234" y="142" width="1" height="47" fill="#f2304e"/>
<rect x="232" y="147" width="5" height="40" fill="#f2304e"/>
<rect x="233" y="148" width="3" height="38" fill="#000"/>
<rect x="240" y="127" width="1" height="21" fill="#f2304e"/>
<rect x="238" y="129" width="5" height="18" fill="#f2304e"/>
<rect x="239" y="130" width="3" height="16" fill="#000"/>
<rect x="246" y="104" width="1" height="30" fill="#f2304e"/>
<rect x="244" y="108" width="5" height="21" fill="#f2304e"/>
<rect x="245" y="109" width="3" height="19" fill="#000"/>
<rect x="252" y="107" width="1" height="18" fill="#38c67f"/>
<rect x="250" y="108" width="5" height="12" fill="#38c67f"/>
<rect x="258" y="101" width="1" height="19" fill="#f2304e"/>
<rect x="256" y="105" width="5" height="15" fill="#f2304e"/>
<rect x="257" y="106" width="3" height="13" fill="#000"/>
<rect x="264" y="73" width="1" height="34" fill="#f2304e"/>
<rect x="262" y="79" width="5" height="26" fill="#f2304e"/>
<rect x="263" y="80" width="3" height="24" fill="#000"/>
<rect x="270" y="68" width="1" height="32" fill="#38c67f"/>
<rect x="268" y="79" width="5" height="7" fill="#38c67f"/>
<rect x="276" y="74" width="1" height="34" fill="#38c67f"/>
<rect x="274" y="86" width="5" height="21" fill="#38c67f"/>
<rect x="282" y="93" width="1" height="18" fill="#f2304e"/>
<rect x="280" y="98" width="5" height="9" fill="#f2304e"/>
<rect x="281" y="99" width="3" height="7" fill="#000"/>
<rect x="288" y="90" width="1" height="42" fill="#38c67f"/>
<rect x="286" y="98" width="5" height="31" fill="#38c67f"/>
<rect x="294" y="114" width="1" height="38" fill="#38c67f"/>
<rect x="292" y="129" width="5" height="23" fill="#38c67f"/>
<rect x="300" y="135" width="1" height="27" fill="#f2304e"/>
<rect x="298" y="141" width="5" height="11" fill="#f2304e"/>
<rect x="299" y="142" width="3" height="9" fill="#000"/>
<rect x="306" y="136" width="1" height="36" fill="#38c67f"/>
<rect x="304" y="141" width="5" height="26" fill="#38c67f"/>
<rect x="312" y="141" width="1" height="29" fill="#f2304e"/>
<rect x="310" y="159" width="5" height="8" fill="#f2304e"/>
<rect x="311" y="160" width="3" height="6" fill="#000"/>
<rect x="318" y="141" width="1" height="30" fill="#f2304e"/>
<rect x="316" y="165" width="5" height="2" fill="#f2304e"/>
<rect x="324" y="145" width="1" height="42" fill="#38c67f"/>
<rect x="322" y="165" width="5" height="19" fill="#38c67f"/>
<rect x="330" y="182" width="1" height="20" fill="#38c67f"/>
<rect x="328" y="184" width="5" height="15" fill="#38c67f"/>
<rect x="336" y="190" width="1" height="18" fill="#f2304e"/>
<rect x="334" y="195" width="5" height="4" fill="#f2304e"/>
<rect x="335" y="196" width="3" height="2" fill="#000"/>
<rect x="342" y="185" width="1" height="24" fill="#38c67f"/>
<rect x="340" y="195" width="5" height="11" fill="#38c67f"/>
<rect x="348" y="190" width="1" height="52" fill="#38c67f"/>
<rect x="346" y="206" width="5" height="32" fill="#38c67f"/>
<rect x="354" y="224" width="1" height="31" fill="#f2304e"/>
<rect x="352" y="231" width="5" height="7" fill="#f2304e"/>
<rect x="353" y="232" width="3" height="5" fill="#000"/>
<rect x="360" y="213" width="1" height="25" fill="#38c67f"/>
<rect x="358" y="231" width="5" height="5" fill="#38c67f"/>
<rect x="366" y="213" width="1" height="31" fill="#f2304e"/>
<rect x="364" y="224" width="5" height="12" fill="#f2304e"/>
<rect x="365" y="225" width="3" height="10" fill="#000"/>
<rect x="372" y="223" width="1" height="35" fill="#38c67f"/>
<rect x="370" y="224" width="5" height="31" fill="#38c67f"/>
<rect x="378" y="245" width="1" height="23" fill="#38c67f"/>
<rect x="376" y="255" width="5" height="2" fill="#38c67f"/>
<rect x="384" y="239" width="1" height="19" fill="#f2304e"/>
<rect x="382" y="255" width="5" height="2" fill="#f2304e"/>
<rect x="390" y="235" width="1" height="42" fill="#38c67f"/>
<rect x="388" y="255" width="5" height="19" fill="#38c67f"/>
<rect x="396" y="259" width="1" height="27" fill="#f2304e"/>
<rect x="394" y="271" width="5" height="3" fill="#f2304e"/>
<rect x="395" y="272" width="3" height="1" fill="#000"/>
<rect x="402" y="221" width="1" height="53" fill="#f2304e"/>
<rect x="400" y="225" width="5" height="46" fill="#f2304e"/>
<rect x="401" y="226" width="3" height="44" fill="#000"/>
<rect x="408" y="216" width="1" height="38" fill="#38c67f"/>
<rect x="406" y="225" width="5" height="23" fill="#38c67f"/>
<rect x="414" y="215" width="1" height="33" fill="#f2304e"/>
<rect x="412" y="225" width="5" height="23" fill="#f2304e"/>
<rect x="413" y="226" width="3" height="21" fill="#000"/>
<rect x="420" y="212" width="1" height="20" fill="#38c67f"/>
<rect x="418" y="224" width="5" height="2" fill="#38c67f"/>
<rect x="426" y="217" width="1" height="37" fill="#38c67f"/>
<rect x="424" y="226" width="5" height="28" fill="#38c67f"/>
<rect x="432" y="247" width="1" height="56" fill="#38c67f"/>
<rect x="430" y="254" width="5" height="48" fill="#38c67f"/>
<rect x="438" y="292" width="1" height="23" fill="#f2304e"/>
<rect x="436" y="296" width="5" height="6" fill="#f2304e"/>
<rect x="437" y="297" width="3" height="4" fill="#000"/>
<rect x="444" y="291" width="1" height="28" fill="#38c67f"/>
<rect x="442" y="296" width="5" height="9" fill="#38c67f"/>
<rect x="450" y="259" width="1" height="47" fill="#f2304e"/>
<rect x="448" y="261" width="5" height="44" fill="#f2304e"/>
<rect x="449" y="262" width="3" height="42" fill="#000"/>
<rect x="456" y="251" width="1" height="24" fill="#38c67f"/>
<rect x="454" y="261" width="5" height="5" fill="#38c67f"/>
<rect x="462" y="259" width="1" height="38" fill="#38c67f"/>
<rect x="460" y="266" width="5" height="27" fill="#38c67f"/>
<rect x="468" y="286" width="1" height="21" fill="#38c67f"/>
<rect x="466" y="293" width="5" height="9" fill="#38c67f"/>
<rect x="474" y="301" width="1" height="39" fill="#38c67f"/>
<rect x="472" y="302" width="5" height="31" fill="#38c67f"/>
<rect x="480" y="296" width="1" height="44" fill="#f2304e"/>
<rect x="478" y="304" width="5" height="29" fill="#f2304e"/>
<rect x="479" y="305" width="3" height="27" fill="#000"/>
<rect x="486" y="300" width="1" height="35" fill="#38c67f"/>
<rect x="484" y="304" width="5" height="31" fill="#38c67f"/>
<rect x="492" y="306" width="1" height="37" fill="#f2304e"/>
<rect x="490" y="317" width="5" height="18" fill="#f2304e"/>
<rect x="491" y="318" width="3" height="16" fill="#000"/>
<rect x="498" y="309" width="1" height="26" fill="#38c67f"/>
<rect x="496" y="317" width="5" height="13" fill="#38c67f"/>
<rect x="504" y="327" width="1" height="25" fill="#38c67f"/>
<rect x="502" y="330" width="5" height="12" fill="#38c67f"/>
<rect x="510" y="309" width="1" height="38" fill="#f2304e"/>
<rect x="508" y="314" width="5" height="28" fill="#f2304e"/>
<rect x="509" y="315" width="3" height="26" fill="#000"/>
<rect x="516" y="304" width="1" height="21" fill="#38c67f"/>
<rect x="514" y="314" width="5" height="5" fill="#38c67f"/>
<rect x="522" y="285" width="1" height="34" fill="#f2304e"/>
<rect x="520" y="314" width="5" height="5" fill="#f2304e"/>
<rect x="521" y="315" width="3" height="3" fill="#000"/>
<rect x="528" y="308" width="1" height="23" fill="#38c67f"/>
<rect x="526" y="314" width="5" height="15" fill="#38c67f"/>
<rect x="534" y="321" width="1" height="21" fill="#f2304e"/>
<rect x="532" y="323" width="5" height="6" fill="#f2304e"/>
<rect x="533" y="324" width="3" height="4" fill="#000"/>
<rect x="540" y="299" width="1" height="29" fill="#38c67f"/>
<rect x="538" y="323" width="5" height="2" fill="#38c67f"/>
<rect x="546" y="277" width="1" height="49" fill="#f2304e"/>
<rect x="544" y="282" width="5" height="43" fill="#f2304e"/>
<rect x="545" y="283" width="3" height="41" fill="#000"/>
<rect x="552" y="271" width="1" height="45" fill="#38c67f"/>
<rect x="550" y="282" width="5" height="26" fill="#38c67f"/>
<rect x="558" y="295" width="1" height="29" fill="#38c67f"/>
<rect x="556" y="308" width="5" height="11" fill="#38c67f"/>
<rect x="564" y="304" width="1" height="16" fill="#f2304e"/>
<rect x="562" y="309" width="5" height="10" fill="#f2304e"/>
<rect x="563" y="310" width="3" height="8" fill="#000"/>
<rect x="570" y="305" width="1" height="24" fill="#f2304e"/>
<rect x="568" y="308" width="5" height="2" fill="#f2304e"/>
<rect x="576" y="294" width="1" height="24" fill="#38c67f"/>
<rect x="574" y="309" width="5" height="4" fill="#38c67f"/>
<rect x="582" y="273" width="1" height="47" fill="#f2304e"/>
<rect x="580" y="281" width="5" height="32" fill="#f2304e"/>
<rect x="581" y="282" width="3" height="30" fill="#000"/>
<rect x="588" y="273" width="1" height="14" fill="#38c67f"/>
<rect x="586" y="280" width="5" height="2" fill="#38c67f"/>
<rect x="594" y="268" width="1" height="24" fill="#f2304e"/>
<rect x="592" y="280" width="5" height="2" fill="#f2304e"/>
<rect x="600" y="215" width="1" height="70" fill="#f2304e"/>
<rect x="598" y="216" width="5" height="64" fill="#f2304e"/>
<rect x="599" y="217" width="3" height="62" fill="#000"/>
<rect x="606" y="171" width="1" height="51" fill="#f2304e"/>
<rect x="604" y="179" width="5" height="37" fill="#f2304e"/>
<rect x="605" y="180" width="3" height="35" fill="#000"/>
<rect x="612" y="142" width="1" height="44" fill="#f2304e"/>
<rect x="610" y="150" width="5" height="29" fill="#f2304e"/>
<rect x="611" y="151" width="3" height="27" fill="#000"/>
<rect x="618" y="144" width="1" height="40" fill="#38c67f"/>
<rect x="616" y="150" width="5" height="34" fill="#38c67f"/>
<rect x="624" y="161" width="1" height="36" fill="#38c67f"/>
<rect x="622" y="184" width="5" height="9" fill="#38c67f"/>
<rect x="630" y="178" width="1" height="29" fill="#f2304e"/>
<rect x="628" y="186" width="5" height="7" fill="#f2304e"/>
<rect x="629" y="187" width="3" height="5" fill="#000"/>
<rect x="636" y="178" width="1" height="18" fill="#38c67f"/>
<rect x="634" y="185" width="5" height="2" fill="#38c67f"/>
<rect x="642" y="180" width="1" height="26" fill="#38c67f"/>
<rect x="640" y="185" width="5" height="2" fill="#38c67f"/>
<rect x="648" y="170" width="1" height="24" fill="#f2304e"/>
<rect x="646" y="181" width="5" height="5" fill="#f2304e"/>
<rect x="647" y="182" width="3" height="3" fill="#000"/>
<rect x="654" y="157" width="1" height="25" fill="#f2304e"/>
<rect x="652" y="166" width="5" height="15" fill="#f2304e"/>
<rect x="653" y="167" width="3" height="13" fill="#000"/>
<rect x="660" y="139" width="1" height="32" fill="#f2304e"/>
<rect x="658" y="147" width="5" height="19" fill="#f2304e"/>
<rect x="659" y="148" width="3" height="17" fill="#000"/>
<rect x="666" y="128" width="1" height="24" fill="#f2304e"/>
<rect x="664" y="134" width="5" height="13" fill="#f2304e"/>
<rect x="665" y="135" width="3" height="11" fill="#000"/>
<rect x="672" y="116" width="1" height="43" fill="#38c67f"/>
<rect x="670" y="134" width="5" height="18" fill="#38c67f"/>
<rect x="678" y="145" width="1" height="16" fill="#38c67f"/>
<rect x="676" y="152" width="5" height="2" fill="#38c67f"/>
<rect x="684" y="123" width="1" height="48" fill="#f2304e"/>
<rect x="682" y="133" width="5" height="21" fill="#f2304e"/>
<rect x="683" y="134" width="3" height="19" fill="#000"/>
<rect x="690" y="110" width="1" height="31" fill="#f2304e"/>
<rect x="688" y="120" width="5" height="13" fill="#f2304e"/>
<rect x="689" y="121" width="3" height="11" fill="#000"/>
<rect x="696" y="114" width="1" height="40" fill="#38c67f"/>
<rect x="694" y="120" width="5" height="26" fill="#38c67f"/>
<rect x="702" y="132" width="1" height="33" fill="#38c67f"/>
<rect x="700" y="146" width="5" height="18" fill="#38c67f"/>
<rect x="708" y="141" width="1" height="25" fill="#f2304e"/>
<rect x="706" y="155" width="5" height="9" fill="#f2304e"/>
<rect x="707" y="156" width="3" height="7" fill="#000"/>
<rect x="714" y="112" width="1" height="49" fill="#f2304e"/>
<rect x="712" y="115" width="5" height="40" fill="#f2304e"/>
<rect x="713" y="116" width="3" height="38" fill="#000"/>
<rect x="720" y="111" width="1" height="36" fill="#38c67f"/>
<rect x="718" y="115" width="5" height="31" fill="#38c67f"/>
<rect x="726" y="121" width="1" height="31" fill="#f2304e"/>
<rect x="724" y="130" width="5" height="16" fill="#f2304e"/>
<rect x="725" y="131" width="3" height="14" fill="#000"/>
<rect x="732" y="116" width="1" height="17" fill="#f2304e"/>
<rect x="730" y="121" width="5" height="9" fill="#f2304e"/>
<rect x="731" y="122" width="3" height="7" fill="#000"/>
<rect x="738" y="96" width="1" height="30" fill="#f2304e"/>
<rect x="736" y="112" width="5" height="9" fill="#f2304e"/>
<rect x="737" y="113" width="3" height="7" fill="#000"/>
<rect x="744" y="86" width="1" height="27" fill="#f2304e"/>
<rect x="742" y="102" width="5" height="10" fill="#f2304e"/>
<rect x="743" y="103" width="3" height="8" fill="#000"/>
<rect x="750" y="84" width="1" height="35" fill="#38c67f"/>
<rect x="748" y="102" width="5" height="13" fill="#38c67f"/>
<rect x="756" y="104" width="1" height="31" fill="#f2304e"/>
<rect x="754" y="111" width="5" height="4" fill="#f2304e"/>
<rect x="755" y="112" width="3" height="2" fill="#000"/>
<rect x="762" y="97" width="1" height="18" fill="#f2304e"/>
<rect x="760" y="106" width="5" height="5" fill="#f2304e"/>
<rect x="761" y="107" width="3" height="3" fill="#000"/>
<rect x="768" y="102" width="1" height="31" fill="#38c67f"/>
<rect x="766" y="106" width="5" height="20" fill="#38c67f"/>
<rect x="774" y="110" width="1" height="38" fill="#38c67f"/>
<rect x="772" y="126" width="5" height="11" fill="#38c67f"/>
<rect x="780" y="115" width="1" height="39" fill="#38c67f"/>
<rect x="778" y="137" width="5" height="15" fill="#38c67f"/>
<rect x="786" y="150" width="1" height="32" fill="#38c67f"/>
<rect x="784" y="152" width="5" height="27" fill="#38c67f"/>
<rect x="792" y="157" width="1" height="30" fill="#f2304e"/>
<rect x="790" y="166" width="5" height="13" fill="#f2304e"/>
<rect x="791" y="167" width="3" height="11" fill="#000"/>
<rect x="798" y="159" width="1" height="19" fill="#38c67f"/>
<rect x="796" y="165" width="5" height="2" fill="#38c67f"/>
<rect x="804" y="160" width="1" height="19" fill="#38c67f"/>
<rect x="802" y="166" width="5" height="2" fill="#38c67f"/>
<rect x="810" y="149" width="1" height="36" fill="#f2304e"/>
<rect x="808" y="152" width="5" height="16" fill="#f2304e"/>
<rect x="809" y="153" width="3" height="14" fill="#000"/>
<rect x="816" y="146" width="1" height="17" fill="#38c67f"/>
<rect x="814" y="151" width="5" height="2" fill="#38c67f"/>
<rect x="822" y="110" width="1" height="43" fill="#f2304e"/>
<rect x="820" y="116" width="5" height="37" fill="#f2304e"/>
<rect x="821" y="117" width="3" height="35" fill="#000"/>
<rect x="828" y="99" width="1" height="20" fill="#f2304e"/>
<rect x="826" y="102" width="5" height="14" fill="#f2304e"/>
<rect x="827" y="103" width="3" height="12" fill="#000"/>
<rect x="834" y="88" width="1" height="15" fill="#f2304e"/>
<rect x="832" y="95" width="5" height="7" fill="#f2304e"/>
<rect x="833" y="96" width="3" height="5" fill="#000"/>
<rect x="840" y="85" width="1" height="28" fill="#38c67f"/>
<rect x="838" y="95" width="5" height="11" fill="#38c67f"/>
<rect x="846" y="96" width="1" height="14" fill="#f2304e"/>
<rect x="844" y="98" width="5" height="8" fill="#f2304e"/>
<rect x="845" y="99" width="3" height="6" fill="#000"/>
<rect x="852" y="97" width="1" height="40" fill="#38c67f"/>
<rect x="850" y="98" width="5" height="34" fill="#38c67f"/>
<rect x="858" y="123" width="1" height="14" fill="#f2304e"/>
<rect x="856" y="128" width="5" height="4" fill="#f2304e"/>
<rect x="857" y="129" width="3" height="2" fill="#000"/>
<rect x="864" y="86" width="1" height="42" fill="#f2304e"/>
<rect x="862" y="90" width="5" height="38" fill="#f2304e"/>
<rect x="863" y="91" width="3" height="36" fill="#000"/>
<rect x="870" y="79" width="1" height="24" fill="#f2304e"/>
<rect x="868" y="88" width="5" height="2" fill="#f2304e"/>
<rect x="876" y="58" width="1" height="31" fill="#f2304e"/>
<rect x="874" y="59" width="5" height="29" fill="#f2304e"/>
<rect x="875" y="60" width="3" height="27" fill="#000"/>
</g>
<g shape-rendering="crispEdges" fill="#fff">
<rect x="268" y="67" width="7" height="1" fill="#fff"/>
<rect x="270" y="65" width="1" height="4" fill="#fff"/>
<rect x="124" y="341" width="7" height="1" fill="#fff"/>
<rect x="126" y="339" width="1" height="4" fill="#fff"/>
<rect x="502" y="351" width="7" height="1" fill="#fff"/>
<rect x="504" y="349" width="1" height="4" fill="#fff"/>
<rect x="858" y="56" width="20" height="1" fill="#fff"/>
<rect x="876" y="54" width="1" height="4" fill="#fff"/>
</g>
<g shape-rendering="crispEdges">
<rect x="66" y="454" width="1" height="7" fill="#38c67f"/>
<rect x="72" y="454" width="1" height="9" fill="#38c67f"/>
<rect x="78" y="454" width="1" height="11" fill="#38c67f"/>
<rect x="84" y="454" width="1" height="10" fill="#38c67f"/>
<rect x="90" y="454" width="1" height="4" fill="#38c67f"/>
<rect x="96" y="454" width="1" height="4" fill="#38c67f"/>
<rect x="102" y="454" width="1" height="8" fill="#38c67f"/>
<rect x="108" y="454" width="1" height="14" fill="#38c67f"/>
<rect x="114" y="454" width="1" height="16" fill="#38c67f"/>
<rect x="120" y="454" width="1" height="17" fill="#38c67f"/>
<rect x="126" y="454" width="1" height="15" fill="#38c67f"/>
<rect x="132" y="454" width="1" height="6" fill="#38c67f"/>
<rect x="138" y="448" width="1" height="7" fill="#f2304e"/>
<rect x="144" y="446" width="1" height="9" fill="#f2304e"/>
<rect x="150" y="442" width="1" height="13" fill="#f2304e"/>
<rect x="156" y="432" width="1" height="23" fill="#f2304e"/>
<rect x="162" y="422" width="1" height="33" fill="#f2304e"/>
<rect x="168" y="411" width="1" height="44" fill="#f2304e"/>
<rect x="174" y="413" width="1" height="42" fill="#f2304e"/>
<rect x="180" y="419" width="1" height="36" fill="#f2304e"/>
<rect x="186" y="430" width="1" height="25" fill="#f2304e"/>
<rect x="192" y="435" width="1" height="20" fill="#f2304e"/>
<rect x="198" y="438" width="1" height="17" fill="#f2304e"/>
<rect x="204" y="440" width="1" height="15" fill="#f2304e"/>
<rect x="210" y="449" width="1" height="6" fill="#f2304e"/>
<rect x="216" y="450" width="1" height="5" fill="#f2304e"/>
<rect x="222" y="449" width="1" height="6" fill="#f2304e"/>
<rect x="228" y="451" width="1" height="4" fill="#f2304e"/>
<rect x="234" y="447" width="1" height="8" fill="#f2304e"/>
<rect x="240" y="441" width="1" height="14" fill="#f2304e"/>
<rect x="246" y="435" width="1" height="20" fill="#f2304e"/>
<rect x="252" y="435" width="1" height="20" fill="#f2304e"/>
<rect x="258" y="434" width="1" height="21" fill="#f2304e"/>
<rect x="264" y="430" width="1" height="25" fill="#f2304e"/>
<rect x="270" y="431" width="1" height="24" fill="#f2304e"/>
<rect x="276" y="438" width="1" height="17" fill="#f2304e"/>
<rect x="282" y="442" width="1" height="13" fill="#f2304e"/>
<rect x="288" y="451" width="1" height="4" fill="#f2304e"/>
<rect x="294" y="454" width="1" height="10" fill="#38c67f"/>
<rect x="300" y="454" width="1" height="16" fill="#38c67f"/>
<rect x="306" y="454" width="1" height="24" fill="#38c67f"/>
<rect x="312" y="454" width="1" height="28" fill="#38c67f"/>
<rect x="318" y="454" width="1" height="30" fill="#38c67f"/>
<rect x="324" y="454" width="1" height="34" fill="#38c67f"/>
<rect x="330" y="454" width="1" height="37" fill="#38c67f"/>
<rect x="336" y="454" width="1" height="40" fill="#38c67f"/>
<rect x="342" y="454" width="1" height="41" fill="#38c67f"/>
<rect x="348" y="454" width="1" height="44" fill="#38c67f"/>
<rect x="354" y="454" width="1" height="44" fill="#38c67f"/>
<rect x="360" y="454" width="1" height="43" fill="#38c67f"/>
<rect x="366" y="454" width="1" height="39" fill="#38c67f"/>
<rect x="372" y="454" width="1" height="37" fill="#38c67f"/>
<rect x="378" y="454" width="1" height="35" fill="#38c67f"/>
<rect x="384" y="454" width="1" height="33" fill="#38c67f"/>
<rect x="390" y="454" width="1" height="31" fill="#38c67f"/>
<rect x="396" y="454" width="1" height="29" fill="#38c67f"/>
<rect x="402" y="454" width="1" height="18" fill="#38c67f"/>
<rect x="408" y="454" width="1" height="13" fill="#38c67f"/>
<rect x="414" y="454" width="1" height="4" fill="#38c67f"/>
<rect x="420" y="452" width="1" height="3" fill="#f2304e"/>
<rect x="426" y="453" width="1" height="2" fill="#f2304e"/>
<rect x="432" y="454" width="1" height="9" fill="#38c67f"/>
<rect x="438" y="454" width="1" height="13" fill="#38c67f"/>
<rect x="444" y="454" width="1" height="16" fill="#38c67f"/>
<rect x="450" y="454" width="1" height="8" fill="#38c67f"/>
<rect x="456" y="454" width="1" height="3" fill="#38c67f"/>
<rect x="462" y="454" width="1" height="5" fill="#38c67f"/>
<rect x="468" y="454" width="1" height="6" fill="#38c67f"/>
<rect x="474" y="454" width="1" height="12" fill="#38c67f"/>
<rect x="480" y="454" width="1" height="9" fill="#38c67f"/>
<rect x="486" y="454" width="1" height="12" fill="#38c67f"/>
<rect x="492" y="454" width="1" height="9" fill="#38c67f"/>
<rect x="498" y="454" width="1" height="9" fill="#38c67f"/>
<rect x="504" y="454" width="1" height="10" fill="#38c67f"/>
<rect x="510" y="454" width="1" height="4" fill="#38c67f"/>
<rect x="516" y="453" width="1" height="2" fill="#f2304e"/>
<rect x="522" y="449" width="1" height="6" fill="#f2304e"/>
<rect x="528" y="449" width="1" height="6" fill="#f2304e"/>
<rect x="534" y="447" width="1" height="8" fill="#f2304e"/>
<rect x="540" y="446" width="1" height="9" fill="#f2304e"/>
<rect x="546" y="437" width="1" height="18" fill="#f2304e"/>
<rect x="552" y="437" width="1" height="18" fill="#f2304e"/>
<rect x="558" y="439" width="1" height="16" fill="#f2304e"/>
<rect x="564" y="439" width="1" height="16" fill="#f2304e"/>
<rect x="570" y="439" width="1" height="16" fill="#f2304e"/>
<rect x="576" y="440" width="1" height="15" fill="#f2304e"/>
<rect x="582" y="434" width="1" height="21" fill="#f2304e"/>
<rect x="588" y="432" width="1" height="23" fill="#f2304e"/>
<rect x="594" y="431" width="1" height="24" fill="#f2304e"/>
<rect x="600" y="419" width="1" height="36" fill="#f2304e"/>
<rect x="606" y="407" width="1" height="48" fill="#f2304e"/>
<rect x="612" y="397" width="1" height="58" fill="#f2304e"/>
<rect x="618" y="398" width="1" height="57" fill="#f2304e"/>
<rect x="624" y="404" width="1" height="51" fill="#f2304e"/>
<rect x="630" y="410" width="1" height="45" fill="#f2304e"/>
<rect x="636" y="416" width="1" height="39" fill="#f2304e"/>
<rect x="642" y="422" width="1" height="33" fill="#f2304e"/>
<rect x="648" y="427" width="1" height="28" fill="#f2304e"/>
<rect x="654" y="430" width="1" height="25" fill="#f2304e"/>
<rect x="660" y="429" width="1" height="26" fill="#f2304e"/>
<rect x="666" y="429" width="1" height="26" fill="#f2304e"/>
<rect x="672" y="434" width="1" height="21" fill="#f2304e"/>
<rect x="678" y="439" width="1" height="16" fill="#f2304e"/>
<rect x="684" y="440" width="1" height="15" fill="#f2304e"/>
<rect x="690" y="440" width="1" height="15" fill="#f2304e"/>
<rect x="696" y="446" width="1" height="9" fill="#f2304e"/>
<rect x="702" y="454" width="1" height="2" fill="#38c67f"/>
<rect x="708" y="454" width="1" height="6" fill="#38c67f"/>
<rect x="714" y="454" width="1" height="2" fill="#38c67f"/>
<rect x="720" y="454" width="1" height="6" fill="#38c67f"/>
<rect x="726" y="454" width="1" height="7" fill="#38c67f"/>
<rect x="732" y="454" width="1" height="6" fill="#38c67f"/>
<rect x="738" y="454" width="1" height="4" fill="#38c67f"/>
<rect x="744" y="454" width="1" height="1" fill="#38c67f"/>
<rect x="750" y="454" width="1" height="3" fill="#38c67f"/>
<rect x="756" y="454" width="1" height="4" fill="#38c67f"/>
<rect x="762" y="454" width="1" height="5" fill="#38c67f"/>
<rect x="768" y="454" width="1" height="9" fill="#38c67f"/>
<rect x="774" y="454" width="1" height="14" fill="#38c67f"/>
<rect x="780" y="454" width="1" height="21" fill="#38c67f"/>
<rect x="786" y="454" width="1" height="29" fill="#38c67f"/>
<rect x="792" y="454" width="1" height="31" fill="#38c67f"/>
<rect x="798" y="454" width="1" height="32" fill="#38c67f"/>
<rect x="804" y="454" width="1" height="31" fill="#38c67f"/>
<rect x="810" y="454" width="1" height="26" fill="#38c67f"/>
<rect x="816" y="454" width="1" height="23" fill="#38c67f"/>
<rect x="822" y="454" width="1" height="13" fill="#38c67f"/>
<rect x="828" y="454" width="1" height="4" fill="#38c67f"/>
<rect x="834" y="450" width="1" height="5" fill="#f2304e"/>
<rect x="840" y="448" width="1" height="7" fill="#f2304e"/>
<rect x="846" y="446" width="1" height="9" fill="#f2304e"/>
<rect x="852" y="452" width="1" height="3" fill="#f2304e"/>
<rect x="858" y="454" width="1" height="2" fill="#38c67f"/>
<rect x="864" y="451" width="1" height="4" fill="#f2304e"/>
<rect x="870" y="448" width="1" height="7" fill="#f2304e"/>
<rect x="876" y="441" width="1" height="14" fill="#f2304e"/>
</g>
<polyline fill="none" stroke="#f4f4f4" stroke-width="1" stroke-linejoin="round" shape-rendering="crispEdges" points="66.5,448.25 72.5,450.75 78.5,453 84.5,453 90.5,450.5 96.5,451.75 102.5,455 108.5,458.75 114.5,462 120.5,464.25 126.5,465.5 132.5,459.5 138.5,455 144.5,452 150.5,448.75 156.5,440.5 162.5,430 168.5,420.75 174.5,416.75 180.5,416.25 186.5,419.25 192.5,419.25 198.5,418.25 204.5,417.5 210.5,421.25 216.5,421.75 222.5,421.25 228.5,420.75 234.5,418.25 240.5,414.5 246.5,409.25 252.5,405.75 258.5,402 264.5,397.5 270.5,396.25 276.5,397 282.5,397.5 288.5,403.75 294.5,409 300.5,415.5 306.5,422.5 312.5,428 318.5,433.75 324.5,440 330.5,446.25 336.5,451.25 342.5,457.5 348.5,464.5 354.5,469.25 360.5,472.5 366.5,474.5 372.5,478.25 378.5,482.5 384.5,485.5 390.5,488.25 396.5,491.25 402.5,487.5 408.5,485.75 414.5,482.5 420.5,480 426.5,480.75 432.5,486.25 438.5,489.5 444.5,492.5 450.5,489.5 456.5,487.5 462.5,488.25 468.5,491.25 474.5,494.25 480.5,495 486.5,497 492.5,496.75 498.5,497 504.5,496.75 510.5,495.5 516.5,494.25 522.5,492 528.5,491.5 534.5,489.5 540.5,488.25 546.5,481.25 552.5,479.5 558.5,478.75 564.5,476.75 570.5,474.5 576.5,473.25 582.5,468.75 588.5,463.75 594.5,459.5 600.5,450.75 606.5,435 612.5,423.25 618.5,418.25 624.5,415.5 630.5,413 636.5,411.75 642.5,410.75 648.5,410 654.5,407.5 660.5,404.5 666.5,402.5 672.5,402.5 678.5,403 684.5,401.25 690.5,400.5 696.5,402.5 702.5,406.25 708.5,409.25 714.5,408 720.5,410 726.5,411.25 732.5,411.25 738.5,410 744.5,410 750.5,410.75 756.5,411.25 762.5,412 768.5,414.5 774.5,419.25 780.5,426.25 786.5,433.75 792.5,439.5 798.5,443 804.5,445.5 810.5,446.75 816.5,447 822.5,443.75 828.5,439.5 834.5,435 840.5,433.75 846.5,432 852.5,433.75 858.5,436.75 864.5,433.75 870.5,431.25 876.5,428"/>
<polyline fill="none" stroke="#e2e222" stroke-width="1" stroke-linejoin="round" shape-rendering="crispEdges" points="66.5,445 72.5,446.75 78.5,448.75 84.5,449.5 90.5,450 96.5,450.5 102.5,451.75 108.5,453.25 114.5,455 120.5,457 126.5,458.75 132.5,458.25 138.5,457.5 144.5,456.75 150.5,455 156.5,452 162.5,447.5 168.5,442 174.5,437 180.5,432.5 186.5,430 192.5,428 198.5,425.75 204.5,424.25 210.5,423.75 216.5,423.25 222.5,423 228.5,422.5 234.5,421.75 240.5,420 246.5,417.5 252.5,414.5 258.5,412 264.5,408.75 270.5,406.25 276.5,404.25 282.5,403.25 288.5,403.25 294.5,404.5 300.5,405.75 306.5,409.25 312.5,413 318.5,416.75 324.5,421.25 330.5,426.75 336.5,431.75 342.5,437.5 348.5,443.75 354.5,448.75 360.5,453 366.5,457.5 372.5,461.25 378.5,465.75 384.5,470 390.5,473.75 396.5,477 402.5,479.5 408.5,480 414.5,480.75 420.5,480.75 426.5,480.75 432.5,482 438.5,484.25 444.5,485.75 450.5,486.75 456.5,486.75 462.5,487 468.5,488 474.5,489.5 480.5,490.75 486.5,492 492.5,493 498.5,494.25 504.5,494.5 510.5,495 516.5,494.5 522.5,493.75 528.5,493 534.5,492 540.5,490.75 546.5,488.75 552.5,486.75 558.5,485 564.5,483 570.5,481.25 576.5,480 582.5,477.5 588.5,475 594.5,472 600.5,467.5 606.5,460.75 612.5,452.5 618.5,445.75 624.5,440 630.5,434.25 636.5,430 642.5,425.75 648.5,422 654.5,418.75 660.5,416.25 666.5,413.25 672.5,411.25 678.5,409.5 684.5,408 690.5,406.75 696.5,406.25 702.5,406.25 708.5,407 714.5,407.5 720.5,408 726.5,408.75 732.5,409.25 738.5,409.5 744.5,409.5 750.5,410 756.5,410.5 762.5,410.5 768.5,411.75 774.5,413.25 780.5,415.75 786.5,420.5 792.5,424.5 798.5,428.25 804.5,431.75 810.5,434.5 816.5,437 822.5,438.25 828.5,438 834.5,437.5 840.5,437.5 846.5,436.25 852.5,435.75 858.5,436.25 864.5,435.5 870.5,434.25 876.5,433"/>
<polyline fill="none" stroke="#f4f4f4" stroke-width="1" stroke-linejoin="round" shape-rendering="crispEdges" points="66.5,578.25 72.5,582 78.5,585.25 84.5,580.75 90.5,575.25 96.5,572.75 102.5,577.5 108.5,582 114.5,583.25 120.5,586.25 126.5,580 132.5,567 138.5,557.75 144.5,556.25 150.5,552.75 156.5,546.5 162.5,542.75 168.5,539 174.5,541.5 180.5,545.25 186.5,552.75 192.5,555.25 198.5,555.25 204.5,556.25 210.5,569.5 216.5,569.5 222.5,567.5 228.5,565.25 234.5,555.75 240.5,547.5 246.5,542.5 252.5,540.75 258.5,538.25 264.5,536.25 270.5,538.25 276.5,543.75 282.5,547 288.5,558.25 294.5,571.25 300.5,574.5 306.5,580.75 312.5,583.75 318.5,586.25 324.5,589 330.5,591.5 336.5,592 342.5,592.5 348.5,593.75 354.5,590.25 360.5,587.75 366.5,585.25 372.5,588.25 378.5,589 384.5,587.75 390.5,590.25 396.5,589.5 402.5,573.25 408.5,569.5 414.5,560 420.5,553.25 426.5,558.25 432.5,570.75 438.5,575.75 444.5,580.75 450.5,574.5 456.5,570.25 462.5,574.5 468.5,578.25 474.5,583.75 480.5,579.5 486.5,584.5 492.5,582.5 498.5,584.5 504.5,586.5 510.5,579.5 516.5,574.5 522.5,569.5 528.5,571.25 534.5,570.25 540.5,570.25 546.5,558.75 552.5,558.75 558.5,562.75 564.5,564 570.5,565 576.5,566.5 582.5,557 588.5,551.5 594.5,548.25 600.5,543.25 606.5,540 612.5,538.25 618.5,540.25 624.5,543.25 630.5,545 636.5,546.5 642.5,548.25 648.5,548.75 654.5,549.5 660.5,545.25 666.5,542 672.5,546.25 678.5,550.75 684.5,547.75 690.5,544 696.5,550 702.5,558.75 708.5,566.5 714.5,556.5 720.5,560 726.5,556.5 732.5,552 738.5,549.75 744.5,548 750.5,550 756.5,550.75 762.5,550.75 768.5,557.5 774.5,565 780.5,575 786.5,582 792.5,582 798.5,582 804.5,581.25 810.5,578.25 816.5,574.5 822.5,562.5 828.5,551.25 834.5,546.25 840.5,545.75 846.5,543 852.5,548 858.5,552 864.5,546.75 870.5,544.25 876.5,540.75"/>
<polyline fill="none" stroke="#e2e222" stroke-width="1" stroke-linejoin="round" shape-rendering="crispEdges" points="66.5,567 72.5,572 78.5,576.25 84.5,578.25 90.5,577 96.5,575.75 102.5,576.5 108.5,578.25 114.5,580 120.5,582 126.5,582 132.5,577 138.5,570.75 144.5,565.75 150.5,561.5 156.5,556.5 162.5,552 168.5,547.75 174.5,545.25 180.5,545.25 186.5,548.25 192.5,550.25 198.5,552 204.5,553.25 210.5,559 216.5,562 222.5,564 228.5,564.5 234.5,562 240.5,557 246.5,552 252.5,548.25 258.5,545.25 264.5,542.5 270.5,540.75 276.5,541.5 282.5,543.25 288.5,548.25 294.5,556 300.5,562.5 306.5,569.5 312.5,574.5 318.5,578.25 324.5,581.5 330.5,584.5 336.5,586.5 342.5,588.25 348.5,590.25 354.5,590.25 360.5,589 366.5,588.25 372.5,588.25 378.5,588.25 384.5,588.25 390.5,589 396.5,589 402.5,583.25 408.5,579 414.5,572.75 420.5,565.75 426.5,563.25 432.5,565.75 438.5,569 444.5,572.75 450.5,573.25 456.5,572 462.5,572.75 468.5,574.5 474.5,577.5 480.5,578.25 486.5,580.25 492.5,580.75 498.5,582 504.5,583.75 510.5,582.5 516.5,579.5 522.5,576.25 528.5,574.75 534.5,572.75 540.5,572 546.5,567.75 552.5,565 558.5,564 564.5,564 570.5,564.5 576.5,565.25 582.5,562 588.5,558.75 594.5,555 600.5,551.25 606.5,547.5 612.5,544.5 618.5,542.75 624.5,542.75 630.5,543.75 636.5,544.5 642.5,545.75 648.5,547 654.5,547.75 660.5,547 666.5,545.25 672.5,545.75 678.5,547.5 684.5,547.5 690.5,546.25 696.5,547.75 702.5,551.5 708.5,556.5 714.5,556.5 720.5,558 726.5,557 732.5,555.5 738.5,553.75 744.5,552 750.5,551.25 756.5,551.25 762.5,551.25 768.5,553 774.5,557 780.5,563 786.5,569.5 792.5,574.25 798.5,576.75 804.5,578.25 810.5,578.25 816.5,577.5 822.5,572.5 828.5,565.5 834.5,559.25 840.5,555 846.5,551.25 852.5,550 858.5,550.75 864.5,550 870.5,548 876.5,545.5"/>
<polyline fill="none" stroke="#e828e8" stroke-width="1" stroke-linejoin="round" shape-rendering="crispEdges" points="66.5,602 72.5,601.25 78.5,603.25 84.5,590 90.5,570.75 96.5,569.5 102.5,578.25 108.5,589.5 114.5,591.5 120.5,594 126.5,577 132.5,545.75 138.5,530.25 144.5,538.25 150.5,537 156.5,526.5 162.5,526.5 168.5,522.5 174.5,532.5 180.5,545.75 186.5,563.25 192.5,566.5 198.5,563.25 204.5,562 210.5,590.25 216.5,582 222.5,573.75 228.5,565.75 234.5,542 240.5,530.75 246.5,523.25 252.5,527.5 258.5,525.75 264.5,525.75 270.5,534.5 276.5,545.75 282.5,548.25 288.5,574.5 294.5,600 300.5,600.75 306.5,605.25 312.5,604.5 318.5,604.5 324.5,605.75 330.5,604.5 336.5,599.5 342.5,599.5 348.5,599.5 354.5,589.5 360.5,585.75 366.5,580 372.5,589.5 378.5,589.5 384.5,587 390.5,592.5 396.5,589.5 402.5,552 408.5,550 414.5,534.5 420.5,529.5 426.5,548.25 432.5,580.75 438.5,587 444.5,594.5 450.5,574.5 456.5,565.75 462.5,577 468.5,585.75 474.5,595.25 480.5,582 486.5,592.5 492.5,585 498.5,588.25 504.5,592.5 510.5,577 516.5,565.75 522.5,556.5 528.5,564.5 534.5,564.5 540.5,566.5 546.5,540.75 552.5,549.5 558.5,562 564.5,564.5 570.5,565.25 576.5,568.25 582.5,545.75 588.5,538.25 594.5,536.25 600.5,526.5 606.5,525.25 612.5,525.25 618.5,537 624.5,544 630.5,547 636.5,550 642.5,552.5 648.5,551.5 654.5,552.5 660.5,542 666.5,535.75 672.5,547 678.5,557.5 684.5,548.75 690.5,540.75 696.5,553.25 702.5,574.5 708.5,585.25 714.5,555.75 720.5,565.5 726.5,555.5 732.5,545.5 738.5,542.75 744.5,540 750.5,548 756.5,551 762.5,549.5 768.5,567.5 774.5,583.75 780.5,599.25 786.5,605.5 792.5,600 798.5,594.5 804.5,590.5 810.5,578 816.5,571.25 822.5,540 828.5,523.75 834.5,521.25 840.5,527 846.5,528.75 852.5,546.25 858.5,556.25 864.5,540 870.5,535.75 876.5,531.25"/>
<text x="59" y="24" fill="#ee3350" text-anchor="end" textLength="44.46" lengthAdjust="spacingAndGlyphs">94.0718</text>
<text x="905.5" y="24" fill="#ee3350" textLength="44.46" lengthAdjust="spacingAndGlyphs">94.0718</text>
<text x="59" y="83" fill="#ee3350" text-anchor="end" textLength="44.46" lengthAdjust="spacingAndGlyphs">93.2622</text>
<text x="905.5" y="83" fill="#ee3350" textLength="44.46" lengthAdjust="spacingAndGlyphs">93.2622</text>
<text x="59" y="142" fill="#ee3350" text-anchor="end" textLength="44.46" lengthAdjust="spacingAndGlyphs">92.4526</text>
<text x="905.5" y="142" fill="#ee3350" textLength="44.46" lengthAdjust="spacingAndGlyphs">92.4526</text>
<text x="59" y="201" fill="#ee3350" text-anchor="end" textLength="44.46" lengthAdjust="spacingAndGlyphs">91.6429</text>
<text x="905.5" y="201" fill="#ee3350" textLength="44.46" lengthAdjust="spacingAndGlyphs">91.6429</text>
<text x="59" y="260" fill="#ee3350" text-anchor="end" textLength="44.46" lengthAdjust="spacingAndGlyphs">90.8333</text>
<text x="905.5" y="260" fill="#ee3350" textLength="44.46" lengthAdjust="spacingAndGlyphs">90.8333</text>
<text x="59" y="319" fill="#ee3350" text-anchor="end" textLength="44.46" lengthAdjust="spacingAndGlyphs">90.0236</text>
<text x="905.5" y="319" fill="#ee3350" textLength="44.46" lengthAdjust="spacingAndGlyphs">90.0236</text>
<text x="59" y="398.8" fill="#ee3350" text-anchor="end" textLength="37.62" lengthAdjust="spacingAndGlyphs">0.5494</text>
<text x="905.5" y="398.8" fill="#ee3350" textLength="37.62" lengthAdjust="spacingAndGlyphs">0.5494</text>
<text x="59" y="423.6" fill="#ee3350" text-anchor="end" textLength="37.62" lengthAdjust="spacingAndGlyphs">0.3072</text>
<text x="905.5" y="423.6" fill="#ee3350" textLength="37.62" lengthAdjust="spacingAndGlyphs">0.3072</text>
<text x="59" y="450" fill="#ee3350" text-anchor="end" textLength="37.62" lengthAdjust="spacingAndGlyphs">0.0649</text>
<text x="905.5" y="450" fill="#ee3350" textLength="37.62" lengthAdjust="spacingAndGlyphs">0.0649</text>
<text x="59" y="476" fill="#ee3350" text-anchor="end" textLength="41.72" lengthAdjust="spacingAndGlyphs">-0.1773</text>
<text x="905.5" y="476" fill="#ee3350" textLength="41.72" lengthAdjust="spacingAndGlyphs">-0.1773</text>
<text x="59" y="524" fill="#ee3350" text-anchor="end" textLength="51.30" lengthAdjust="spacingAndGlyphs">115.2116</text>
<text x="905.5" y="524" fill="#ee3350" textLength="51.30" lengthAdjust="spacingAndGlyphs">115.2116</text>
<text x="59" y="552" fill="#ee3350" text-anchor="end" textLength="44.46" lengthAdjust="spacingAndGlyphs">72.2976</text>
<text x="905.5" y="552" fill="#ee3350" textLength="44.46" lengthAdjust="spacingAndGlyphs">72.2976</text>
<text x="59" y="580.5" fill="#ee3350" text-anchor="end" textLength="44.46" lengthAdjust="spacingAndGlyphs">29.3835</text>
<text x="905.5" y="580.5" fill="#ee3350" textLength="44.46" lengthAdjust="spacingAndGlyphs">29.3835</text>
<text x="64" y="13" fill="#f0f0f0">美元指数</text>
<text x="113" y="12.3" fill="#f2b03c" style="font-size:10px">&lt;</text>
<text x="120.7" y="13" fill="#f2b03c">日线</text>
<text x="146" y="13" fill="#f2b03c">&gt;</text>
<text x="64.3" y="388" fill="#f0f0f0" textLength="85" lengthAdjust="spacingAndGlyphs">MACD(26,12,9)</text>
<text x="153.8" y="388" fill="#f0f0f0">DIFF:0.2913</text>
<text x="228.5" y="388" fill="#e2e222">DEA:0.2164</text>
<text x="302" y="388" fill="#e828e8">MACD:0.1497</text>
<text x="64.3" y="512.5" fill="#f0f0f0">KDJ(9,3,3)</text>
<text x="125.5" y="512.5" fill="#f0f0f0">K:90.4754</text>
<text x="190" y="512.5" fill="#e2e222">D:82.4991</text>
<text x="254.5" y="512.5" fill="#e828e8">J:106.4279</text>
<text x="275.3" y="64" fill="#f62e4e" font-weight="bold" stroke="#080808" stroke-width="2.5" paint-order="stroke" textLength="44.68" lengthAdjust="spacingAndGlyphs">93.4393</text>
<text x="812.3" y="53" fill="#f62e4e" font-weight="bold" textLength="44.68" lengthAdjust="spacingAndGlyphs">93.5854</text>
<text x="131.3" y="352.3" fill="#36c882" font-weight="bold" textLength="44.68" lengthAdjust="spacingAndGlyphs">89.6800</text>
<text x="509" y="363" fill="#36c882" font-weight="bold" textLength="44.68" lengthAdjust="spacingAndGlyphs">89.5318</text>
<text x="140.5" y="619" fill="#a9adb3" font-weight="bold">2021/03</text>
<text x="278.5" y="619" fill="#a9adb3" font-weight="bold">2021/04</text>
<text x="410.5" y="619" fill="#a9adb3" font-weight="bold">2021/05</text>
<text x="536.5" y="619" fill="#a9adb3" font-weight="bold">2021/06</text>
<text x="668.5" y="619" fill="#a9adb3" font-weight="bold">2021/07</text>
<text x="800.5" y="619" fill="#a9adb3" font-weight="bold">2021/08</text>
<text x="6.2" y="622" fill="#fcc458" font-weight="bold" style="font-size:12.6px">日线</text>
<polygon points="36.8,621 45.7,621 41.25,612.6" fill="#fcc458"/>
<g fill="none" stroke="#7c7c7c" stroke-width="1" shape-rendering="crispEdges">
<path d="M761.5 0V14.5H835.5V0"/>
</g>
<g fill="none" stroke="#a0a0a0" stroke-width="1" shape-rendering="crispEdges">
<rect x="839.5" y="0.5" width="13" height="13"/>
<rect x="855.5" y="0.5" width="13" height="13"/>
<rect x="871.5" y="0.5" width="13" height="13"/>
<rect x="887.5" y="0.5" width="13" height="13"/>
</g>
<text x="768" y="11" fill="#8a8a8a">全部主题</text>
<polygon points="817.5,3.8 826.5,3.8 822,11.8" fill="#8a8a8a"/>
<g fill="#a8a8a8" shape-rendering="crispEdges">
<rect x="845" y="6" width="2" height="2" fill="#a8a8a8"/>
<rect x="841" y="6" width="3" height="2" fill="#a8a8a8"/>
<rect x="848" y="6" width="3" height="2" fill="#a8a8a8"/>
<rect x="845" y="2" width="2" height="3" fill="#a8a8a8"/>
<rect x="845" y="9" width="2" height="3" fill="#a8a8a8"/>
<rect x="858" y="3" width="1" height="8" fill="#a8a8a8"/>
<rect x="858" y="10" width="8" height="1" fill="#a8a8a8"/>
<rect x="861" y="3" width="1" height="6" fill="#a8a8a8"/>
</g>
<g fill="#a8a8a8">
<polygon points="858.5,1.8 856.8,4.2 860.2,4.2"/>
<polygon points="858.5,12.2 856.8,9.8 860.2,9.8"/>
<polygon points="867.6,10.5 865.2,8.8 865.2,12.2"/>
<polygon points="862.2,6 865,3.4 865,8.6"/>
<polygon points="856.4,10.5 858.6,8.9 858.6,12.1"/>
<polygon points="872.4,10.5 874.6,8.9 874.6,12.1"/>
<polygon points="874.5,1.8 872.8,4.2 876.2,4.2"/>
<polygon points="874.5,12.2 872.8,9.8 876.2,9.8"/>
<polygon points="883.6,10.5 881.2,8.8 881.2,12.2"/>
<polygon points="877.3,3 877.3,9.4 882.3,6.2"/>
<polygon points="895,4.2 895,8.8 898.4,6.5"/>
</g>
<g fill="#a8a8a8" shape-rendering="crispEdges">
<rect x="874" y="3" width="1" height="8" fill="#a8a8a8"/>
<rect x="874" y="10" width="8" height="1" fill="#a8a8a8"/>
<rect x="892" y="6" width="4" height="1" fill="#a8a8a8"/>
</g>
<g fill="none" stroke="#a8a8a8" shape-rendering="crispEdges"><rect x="889.5" y="2.5" width="3" height="9"/></g>
<circle cx="0.5" cy="505.7" r="3.9" fill="#fff"/><circle cx="0.5" cy="505.7" r="2.8" fill="#f00"/>
<g fill="#f00" shape-rendering="crispEdges">
<rect x="6" y="505" width="2" height="1" fill="#f00"/>
<rect x="5" y="501" width="1" height="1" fill="#f00"/>
<rect x="6" y="500" width="1" height="1" fill="#f00"/>
<rect x="5" y="510" width="1" height="1" fill="#f00"/>
<rect x="6" y="511" width="1" height="1" fill="#f00"/>
<rect x="0" y="499" width="1" height="2" fill="#f00"/>
<rect x="0" y="511" width="1" height="2" fill="#f00"/>
</g>
</svg></body></html>
